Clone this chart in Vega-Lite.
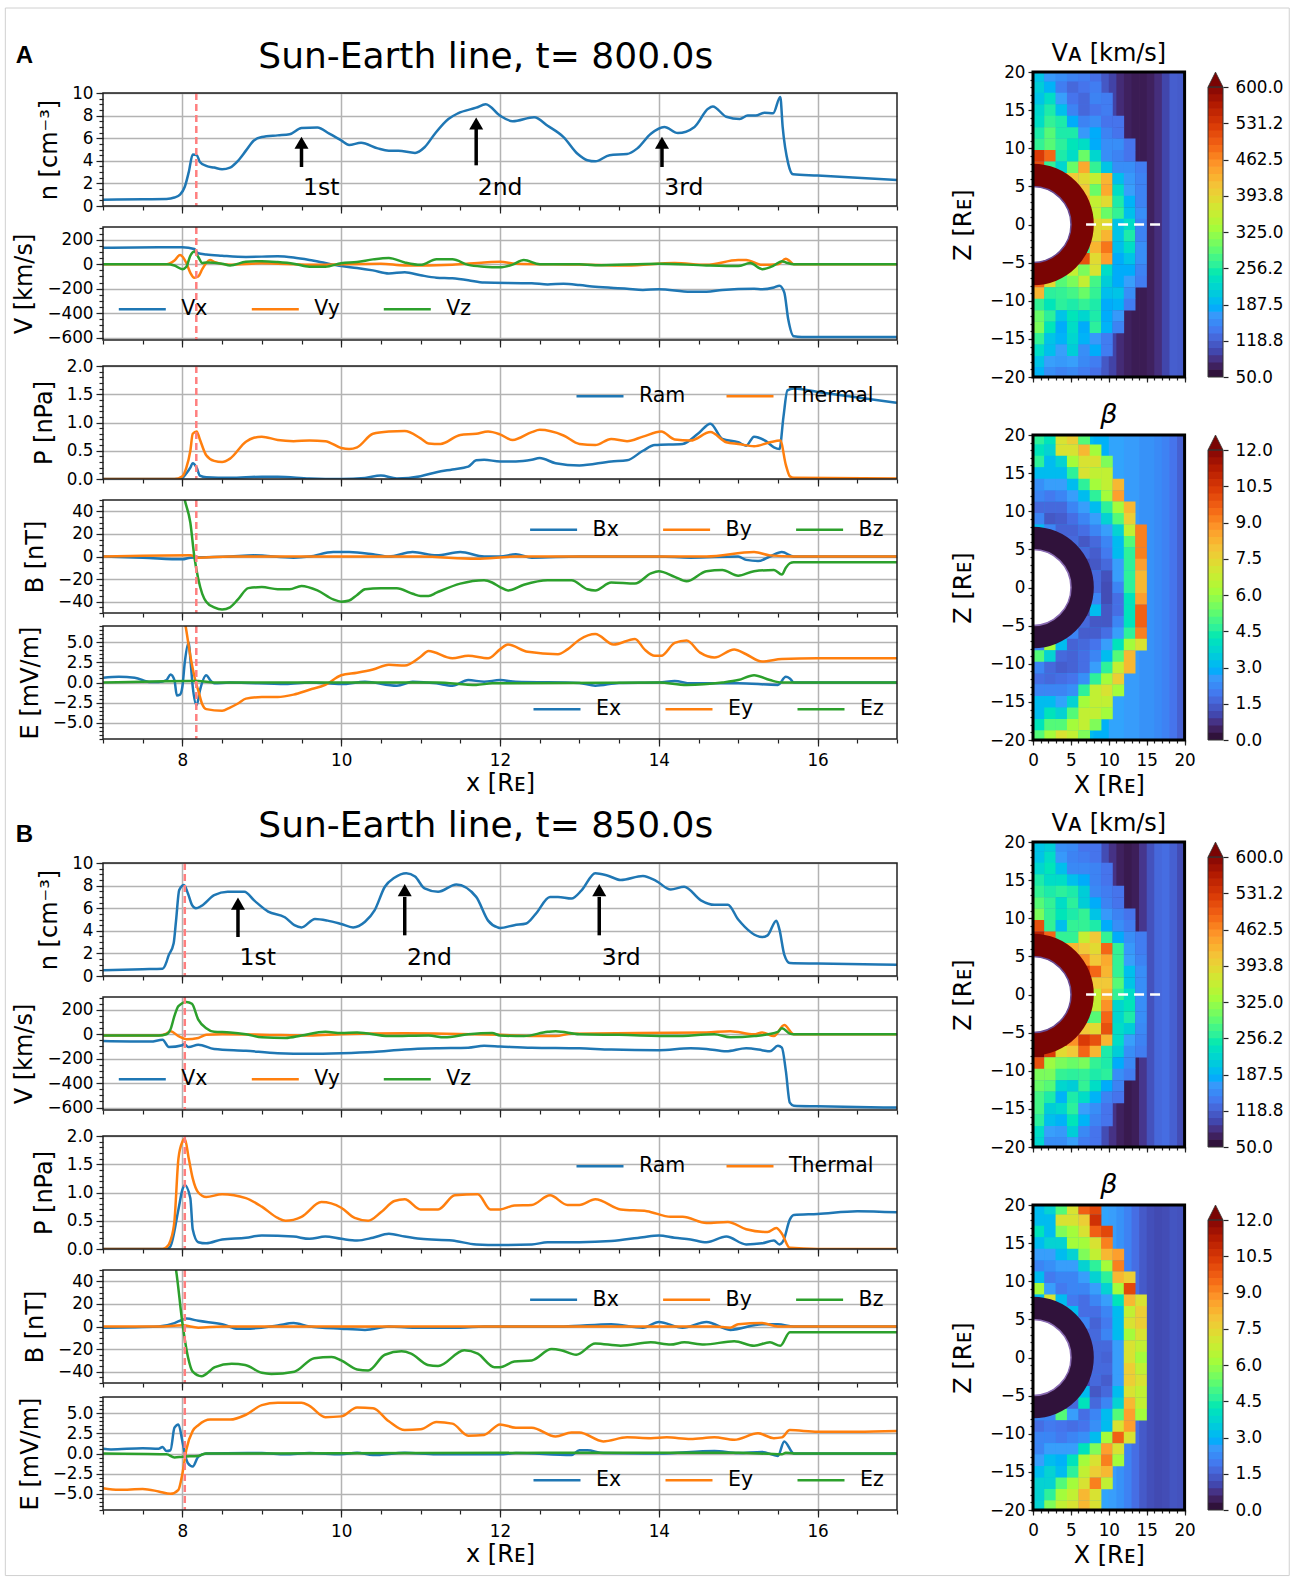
{"$schema":"https://vega.github.io/schema/vega-lite/v6.json","padding":{"left":4,"top":7,"right":0,"bottom":0},"background":"white","bounds":"flush","spacing":930,"resolve":{"scale":{"color":"independent"},"legend":{"color":"independent"}},
"config":{"view":{"stroke":null},"font":"DejaVu Sans","range":{"heatmap":["#30123b","#4145ab","#4675ed","#39a2fc","#1bcfd4","#24eca6","#61fc6c","#a4fc3b","#d1e834","#f3c63a","#fe9b2d","#f36315","#d93806","#b11901","#7a0403"],"ramp":["#30123b","#4145ab","#4675ed","#39a2fc","#1bcfd4","#24eca6","#61fc6c","#a4fc3b","#d1e834","#f3c63a","#fe9b2d","#f36315","#d93806","#b11901","#7a0403"]},"axis":{"domain":false,"labelFont":"DejaVu Sans","titleFont":"DejaVu Sans","labelFontSize":16.8,"titleFontSize":24,"titleFontWeight":"normal","tickColor":"#222","tickWidth":1.2,"labelColor":"#000","titleColor":"#000","gridColor":"#b3b3b3","gridWidth":1.5,"labelPadding":3,"titlePadding":10,"labelFlush":false,"labelOverlap":false},"legend":{"symbolType":"stroke","symbolSize":2209,"symbolStrokeWidth":2.5,"labelFontSize":20.5,"labelFont":"DejaVu Sans","labelOffset":14,"columnPadding":38,"orient":"none","direction":"horizontal","padding":0,"labelColor":"#000"},"title":{"font":"DejaVu Sans","fontWeight":"normal","color":"#000","anchor":"middle"}},
"datasets":{
"a1":[{"x":7,"y":0.55},{"x":7.5,"y":0.6},{"x":7.8,"y":0.62},{"x":7.9,"y":0.75},{"x":7.97,"y":1.0},{"x":8.03,"y":1.7},{"x":8.08,"y":3.0},{"x":8.13,"y":4.55},{"x":8.18,"y":4.5},{"x":8.22,"y":3.9},{"x":8.3,"y":3.55},{"x":8.4,"y":3.4},{"x":8.5,"y":3.25},{"x":8.6,"y":3.4},{"x":8.7,"y":4.0},{"x":8.8,"y":4.9},{"x":8.9,"y":5.8},{"x":9,"y":6.1},{"x":9.2,"y":6.25},{"x":9.35,"y":6.35},{"x":9.5,"y":6.9},{"x":9.7,"y":6.95},{"x":9.85,"y":6.4},{"x":10,"y":5.8},{"x":10.1,"y":5.4},{"x":10.25,"y":5.6},{"x":10.46,"y":5.1},{"x":10.6,"y":4.9},{"x":10.72,"y":4.9},{"x":10.93,"y":4.7},{"x":11.05,"y":5.2},{"x":11.18,"y":6.4},{"x":11.35,"y":7.7},{"x":11.47,"y":8.2},{"x":11.7,"y":8.7},{"x":11.82,"y":9.0},{"x":12,"y":8.0},{"x":12.16,"y":7.5},{"x":12.43,"y":7.85},{"x":12.6,"y":7.1},{"x":12.8,"y":6.1},{"x":12.98,"y":4.6},{"x":13.1,"y":4.05},{"x":13.2,"y":3.95},{"x":13.38,"y":4.5},{"x":13.6,"y":4.6},{"x":13.73,"y":5.1},{"x":13.9,"y":6.4},{"x":14.07,"y":7.0},{"x":14.24,"y":6.45},{"x":14.45,"y":7.0},{"x":14.62,"y":8.6},{"x":14.68,"y":8.8},{"x":14.85,"y":7.9},{"x":15.02,"y":7.7},{"x":15.12,"y":8.0},{"x":15.22,"y":8.0},{"x":15.33,"y":8.25},{"x":15.44,"y":8.2},{"x":15.53,"y":9.65},{"x":15.56,"y":7.0},{"x":15.63,"y":3.75},{"x":15.69,"y":2.8},{"x":16,"y":2.7},{"x":17,"y":2.3}],
"a2":[{"x":7,"s":"Vx","y":135},{"x":7.7,"s":"Vx","y":140},{"x":8,"s":"Vx","y":140},{"x":8.15,"s":"Vx","y":125},{"x":8.2,"s":"Vx","y":90},{"x":8.3,"s":"Vx","y":80},{"x":8.5,"s":"Vx","y":70},{"x":8.8,"s":"Vx","y":60},{"x":9.2,"s":"Vx","y":65},{"x":9.4,"s":"Vx","y":55},{"x":9.6,"s":"Vx","y":35},{"x":9.8,"s":"Vx","y":10},{"x":10,"s":"Vx","y":-15},{"x":10.2,"s":"Vx","y":-30},{"x":10.4,"s":"Vx","y":-50},{"x":10.6,"s":"Vx","y":-75},{"x":10.8,"s":"Vx","y":-65},{"x":11,"s":"Vx","y":-90},{"x":11.2,"s":"Vx","y":-110},{"x":11.4,"s":"Vx","y":-115},{"x":11.6,"s":"Vx","y":-130},{"x":11.8,"s":"Vx","y":-150},{"x":12.4,"s":"Vx","y":-155},{"x":12.6,"s":"Vx","y":-165},{"x":12.8,"s":"Vx","y":-160},{"x":13,"s":"Vx","y":-170},{"x":13.2,"s":"Vx","y":-185},{"x":13.6,"s":"Vx","y":-200},{"x":13.8,"s":"Vx","y":-210},{"x":14,"s":"Vx","y":-205},{"x":14.4,"s":"Vx","y":-225},{"x":14.6,"s":"Vx","y":-225},{"x":14.8,"s":"Vx","y":-210},{"x":15.2,"s":"Vx","y":-200},{"x":15.3,"s":"Vx","y":-205},{"x":15.45,"s":"Vx","y":-190},{"x":15.52,"s":"Vx","y":-175},{"x":15.58,"s":"Vx","y":-230},{"x":15.63,"s":"Vx","y":-450},{"x":15.7,"s":"Vx","y":-590},{"x":15.8,"s":"Vx","y":-595},{"x":17,"s":"Vx","y":-595},
{"x":7,"s":"Vy","y":0},{"x":7.8,"s":"Vy","y":0},{"x":7.9,"s":"Vy","y":30},{"x":7.97,"s":"Vy","y":75},{"x":8.05,"s":"Vy","y":10},{"x":8.1,"s":"Vy","y":-70},{"x":8.15,"s":"Vy","y":-110},{"x":8.2,"s":"Vy","y":-100},{"x":8.25,"s":"Vy","y":-40},{"x":8.3,"s":"Vy","y":10},{"x":8.35,"s":"Vy","y":35},{"x":8.4,"s":"Vy","y":20},{"x":8.6,"s":"Vy","y":-5},{"x":9,"s":"Vy","y":8},{"x":9.6,"s":"Vy","y":-5},{"x":10.5,"s":"Vy","y":5},{"x":10.8,"s":"Vy","y":-10},{"x":11.4,"s":"Vy","y":-3},{"x":11.8,"s":"Vy","y":15},{"x":12,"s":"Vy","y":20},{"x":12.2,"s":"Vy","y":5},{"x":13,"s":"Vy","y":-2},{"x":13.6,"s":"Vy","y":-10},{"x":14.2,"s":"Vy","y":10},{"x":14.6,"s":"Vy","y":-5},{"x":15,"s":"Vy","y":35},{"x":15.1,"s":"Vy","y":35},{"x":15.3,"s":"Vy","y":-5},{"x":15.5,"s":"Vy","y":0},{"x":15.6,"s":"Vy","y":45},{"x":15.65,"s":"Vy","y":25},{"x":15.7,"s":"Vy","y":0},{"x":17,"s":"Vy","y":0},
{"x":7,"s":"Vz","y":0},{"x":7.8,"s":"Vz","y":0},{"x":7.9,"s":"Vz","y":-10},{"x":8,"s":"Vz","y":-40},{"x":8.05,"s":"Vz","y":-20},{"x":8.1,"s":"Vz","y":70},{"x":8.15,"s":"Vz","y":105},{"x":8.2,"s":"Vz","y":60},{"x":8.25,"s":"Vz","y":10},{"x":8.3,"s":"Vz","y":15},{"x":8.5,"s":"Vz","y":5},{"x":8.6,"s":"Vz","y":-10},{"x":8.8,"s":"Vz","y":20},{"x":9,"s":"Vz","y":25},{"x":9.2,"s":"Vz","y":18},{"x":9.4,"s":"Vz","y":5},{"x":9.6,"s":"Vz","y":-20},{"x":9.8,"s":"Vz","y":-20},{"x":10,"s":"Vz","y":8},{"x":10.2,"s":"Vz","y":18},{"x":10.4,"s":"Vz","y":40},{"x":10.6,"s":"Vz","y":52},{"x":10.8,"s":"Vz","y":15},{"x":11,"s":"Vz","y":-5},{"x":11.2,"s":"Vz","y":40},{"x":11.4,"s":"Vz","y":40},{"x":11.6,"s":"Vz","y":-5},{"x":11.8,"s":"Vz","y":-20},{"x":12,"s":"Vz","y":-25},{"x":12.15,"s":"Vz","y":-5},{"x":12.3,"s":"Vz","y":35},{"x":12.5,"s":"Vz","y":0},{"x":13,"s":"Vz","y":0},{"x":13.2,"s":"Vz","y":-8},{"x":14,"s":"Vz","y":5},{"x":14.6,"s":"Vz","y":-10},{"x":15,"s":"Vz","y":-15},{"x":15.15,"s":"Vz","y":10},{"x":15.3,"s":"Vz","y":-40},{"x":15.45,"s":"Vz","y":-10},{"x":15.55,"s":"Vz","y":25},{"x":15.6,"s":"Vz","y":15},{"x":15.7,"s":"Vz","y":0},{"x":17,"s":"Vz","y":0}],
"a3":[{"x":7,"s":"Ram","y":0},{"x":7.95,"s":"Ram","y":0},{"x":8,"s":"Ram","y":0.02},{"x":8.05,"s":"Ram","y":0.1},{"x":8.1,"s":"Ram","y":0.2},{"x":8.13,"s":"Ram","y":0.28},{"x":8.18,"s":"Ram","y":0.2},{"x":8.22,"s":"Ram","y":0.06},{"x":8.3,"s":"Ram","y":0.03},{"x":8.6,"s":"Ram","y":0.02},{"x":9,"s":"Ram","y":0.04},{"x":9.2,"s":"Ram","y":0.04},{"x":9.6,"s":"Ram","y":0.01},{"x":10,"s":"Ram","y":0},{"x":10.3,"s":"Ram","y":0.02},{"x":10.5,"s":"Ram","y":0.06},{"x":10.7,"s":"Ram","y":0.01},{"x":11,"s":"Ram","y":0.05},{"x":11.2,"s":"Ram","y":0.12},{"x":11.4,"s":"Ram","y":0.17},{"x":11.6,"s":"Ram","y":0.22},{"x":11.7,"s":"Ram","y":0.33},{"x":11.8,"s":"Ram","y":0.34},{"x":12,"s":"Ram","y":0.31},{"x":12.2,"s":"Ram","y":0.31},{"x":12.4,"s":"Ram","y":0.34},{"x":12.5,"s":"Ram","y":0.37},{"x":12.7,"s":"Ram","y":0.28},{"x":13,"s":"Ram","y":0.24},{"x":13.4,"s":"Ram","y":0.31},{"x":13.6,"s":"Ram","y":0.33},{"x":13.8,"s":"Ram","y":0.5},{"x":13.95,"s":"Ram","y":0.6},{"x":14.3,"s":"Ram","y":0.62},{"x":14.5,"s":"Ram","y":0.81},{"x":14.65,"s":"Ram","y":0.98},{"x":14.8,"s":"Ram","y":0.71},{"x":15,"s":"Ram","y":0.65},{"x":15.1,"s":"Ram","y":0.59},{"x":15.2,"s":"Ram","y":0.75},{"x":15.35,"s":"Ram","y":0.67},{"x":15.45,"s":"Ram","y":0.56},{"x":15.52,"s":"Ram","y":0.53},{"x":15.57,"s":"Ram","y":1.1},{"x":15.62,"s":"Ram","y":1.57},{"x":15.7,"s":"Ram","y":1.6},{"x":16,"s":"Ram","y":1.54},{"x":17,"s":"Ram","y":1.35},
{"x":7,"s":"Thermal","y":0},{"x":7.9,"s":"Thermal","y":0},{"x":8,"s":"Thermal","y":0.05},{"x":8.05,"s":"Thermal","y":0.2},{"x":8.1,"s":"Thermal","y":0.5},{"x":8.13,"s":"Thermal","y":0.8},{"x":8.18,"s":"Thermal","y":0.84},{"x":8.22,"s":"Thermal","y":0.7},{"x":8.3,"s":"Thermal","y":0.42},{"x":8.4,"s":"Thermal","y":0.32},{"x":8.5,"s":"Thermal","y":0.3},{"x":8.6,"s":"Thermal","y":0.36},{"x":8.8,"s":"Thermal","y":0.66},{"x":8.9,"s":"Thermal","y":0.73},{"x":9,"s":"Thermal","y":0.75},{"x":9.2,"s":"Thermal","y":0.69},{"x":9.4,"s":"Thermal","y":0.67},{"x":9.6,"s":"Thermal","y":0.68},{"x":9.8,"s":"Thermal","y":0.67},{"x":10,"s":"Thermal","y":0.55},{"x":10.1,"s":"Thermal","y":0.53},{"x":10.2,"s":"Thermal","y":0.56},{"x":10.4,"s":"Thermal","y":0.8},{"x":10.6,"s":"Thermal","y":0.84},{"x":10.8,"s":"Thermal","y":0.85},{"x":11,"s":"Thermal","y":0.72},{"x":11.1,"s":"Thermal","y":0.63},{"x":11.25,"s":"Thermal","y":0.62},{"x":11.5,"s":"Thermal","y":0.78},{"x":11.7,"s":"Thermal","y":0.8},{"x":11.85,"s":"Thermal","y":0.84},{"x":12,"s":"Thermal","y":0.79},{"x":12.16,"s":"Thermal","y":0.69},{"x":12.4,"s":"Thermal","y":0.83},{"x":12.5,"s":"Thermal","y":0.87},{"x":12.8,"s":"Thermal","y":0.77},{"x":13,"s":"Thermal","y":0.62},{"x":13.2,"s":"Thermal","y":0.6},{"x":13.4,"s":"Thermal","y":0.71},{"x":13.6,"s":"Thermal","y":0.67},{"x":13.8,"s":"Thermal","y":0.75},{"x":14.03,"s":"Thermal","y":0.84},{"x":14.2,"s":"Thermal","y":0.7},{"x":14.4,"s":"Thermal","y":0.68},{"x":14.65,"s":"Thermal","y":0.83},{"x":14.85,"s":"Thermal","y":0.65},{"x":15,"s":"Thermal","y":0.62},{"x":15.2,"s":"Thermal","y":0.58},{"x":15.4,"s":"Thermal","y":0.65},{"x":15.53,"s":"Thermal","y":0.68},{"x":15.6,"s":"Thermal","y":0.25},{"x":15.65,"s":"Thermal","y":0.05},{"x":15.7,"s":"Thermal","y":0.02},{"x":17,"s":"Thermal","y":0.01}],
"a4":[{"x":7,"s":"Bx","y":0},{"x":7.5,"s":"Bx","y":-1},{"x":8,"s":"Bx","y":-2.5},{"x":8.1,"s":"Bx","y":-1},{"x":8.6,"s":"Bx","y":0},{"x":8.9,"s":"Bx","y":1},{"x":9.4,"s":"Bx","y":-1},{"x":9.6,"s":"Bx","y":0},{"x":9.9,"s":"Bx","y":4},{"x":10.1,"s":"Bx","y":4},{"x":10.4,"s":"Bx","y":2},{"x":10.6,"s":"Bx","y":0},{"x":10.9,"s":"Bx","y":4},{"x":11.2,"s":"Bx","y":1},{"x":11.5,"s":"Bx","y":4},{"x":11.8,"s":"Bx","y":0},{"x":12,"s":"Bx","y":0},{"x":12.2,"s":"Bx","y":2},{"x":12.4,"s":"Bx","y":-1},{"x":13,"s":"Bx","y":0},{"x":14,"s":"Bx","y":0},{"x":14.4,"s":"Bx","y":-1},{"x":15,"s":"Bx","y":0},{"x":15.1,"s":"Bx","y":-3},{"x":15.25,"s":"Bx","y":-4},{"x":15.4,"s":"Bx","y":0},{"x":15.55,"s":"Bx","y":4},{"x":15.7,"s":"Bx","y":0},{"x":17,"s":"Bx","y":0},
{"x":7,"s":"By","y":0},{"x":8.1,"s":"By","y":1},{"x":8.2,"s":"By","y":-1},{"x":8.6,"s":"By","y":0},{"x":11,"s":"By","y":0},{"x":11.7,"s":"By","y":-2},{"x":12.2,"s":"By","y":0},{"x":14.6,"s":"By","y":0},{"x":15.2,"s":"By","y":4},{"x":15.4,"s":"By","y":1},{"x":15.7,"s":"By","y":0},{"x":17,"s":"By","y":0},
{"x":8,"s":"Bz","y":60},{"x":8.03,"s":"Bz","y":50},{"x":8.1,"s":"Bz","y":30},{"x":8.15,"s":"Bz","y":0},{"x":8.2,"s":"Bz","y":-20},{"x":8.25,"s":"Bz","y":-33},{"x":8.3,"s":"Bz","y":-40},{"x":8.4,"s":"Bz","y":-45},{"x":8.5,"s":"Bz","y":-47},{"x":8.6,"s":"Bz","y":-45},{"x":8.7,"s":"Bz","y":-38},{"x":8.83,"s":"Bz","y":-28},{"x":9,"s":"Bz","y":-27},{"x":9.2,"s":"Bz","y":-29},{"x":9.35,"s":"Bz","y":-29},{"x":9.5,"s":"Bz","y":-26},{"x":9.7,"s":"Bz","y":-30},{"x":9.9,"s":"Bz","y":-38},{"x":10,"s":"Bz","y":-40},{"x":10.1,"s":"Bz","y":-39},{"x":10.2,"s":"Bz","y":-34},{"x":10.3,"s":"Bz","y":-29},{"x":10.5,"s":"Bz","y":-28},{"x":10.7,"s":"Bz","y":-28},{"x":10.9,"s":"Bz","y":-33},{"x":11,"s":"Bz","y":-35},{"x":11.1,"s":"Bz","y":-35},{"x":11.2,"s":"Bz","y":-32},{"x":11.5,"s":"Bz","y":-24},{"x":11.8,"s":"Bz","y":-21},{"x":11.9,"s":"Bz","y":-23},{"x":12,"s":"Bz","y":-27},{"x":12.1,"s":"Bz","y":-30},{"x":12.3,"s":"Bz","y":-25},{"x":12.6,"s":"Bz","y":-21},{"x":12.9,"s":"Bz","y":-21},{"x":13.1,"s":"Bz","y":-29},{"x":13.2,"s":"Bz","y":-30},{"x":13.4,"s":"Bz","y":-23},{"x":13.7,"s":"Bz","y":-24},{"x":13.9,"s":"Bz","y":-15},{"x":14,"s":"Bz","y":-13},{"x":14.2,"s":"Bz","y":-18},{"x":14.35,"s":"Bz","y":-22},{"x":14.6,"s":"Bz","y":-13},{"x":14.8,"s":"Bz","y":-12},{"x":15,"s":"Bz","y":-17},{"x":15.2,"s":"Bz","y":-13},{"x":15.45,"s":"Bz","y":-12},{"x":15.55,"s":"Bz","y":-16},{"x":15.6,"s":"Bz","y":-10},{"x":15.65,"s":"Bz","y":-6},{"x":15.7,"s":"Bz","y":-5},{"x":17,"s":"Bz","y":-5}],
"a5":[{"x":7,"s":"Ex","y":0.6},{"x":7.2,"s":"Ex","y":0.7},{"x":7.4,"s":"Ex","y":0.6},{"x":7.6,"s":"Ex","y":0.05},{"x":7.7,"s":"Ex","y":0.05},{"x":7.8,"s":"Ex","y":0.3},{"x":7.85,"s":"Ex","y":1.0},{"x":7.9,"s":"Ex","y":0.3},{"x":7.93,"s":"Ex","y":-1.6},{"x":7.97,"s":"Ex","y":-1.5},{"x":8,"s":"Ex","y":-0.5},{"x":8.03,"s":"Ex","y":2.5},{"x":8.08,"s":"Ex","y":5},{"x":8.1,"s":"Ex","y":3},{"x":8.13,"s":"Ex","y":-0.5},{"x":8.18,"s":"Ex","y":-2.8},{"x":8.22,"s":"Ex","y":-1},{"x":8.3,"s":"Ex","y":0.9},{"x":8.35,"s":"Ex","y":0.3},{"x":8.4,"s":"Ex","y":-0.1},{"x":8.6,"s":"Ex","y":0},{"x":9.3,"s":"Ex","y":-0.2},{"x":9.6,"s":"Ex","y":0},{"x":10,"s":"Ex","y":-0.2},{"x":10.3,"s":"Ex","y":0.1},{"x":10.7,"s":"Ex","y":-0.4},{"x":10.9,"s":"Ex","y":0.1},{"x":11.2,"s":"Ex","y":-0.1},{"x":11.4,"s":"Ex","y":-0.4},{"x":11.6,"s":"Ex","y":0.3},{"x":11.8,"s":"Ex","y":0.1},{"x":12,"s":"Ex","y":0.3},{"x":12.2,"s":"Ex","y":0.1},{"x":13,"s":"Ex","y":-0.05},{"x":13.2,"s":"Ex","y":-0.4},{"x":13.5,"s":"Ex","y":-0.05},{"x":14,"s":"Ex","y":0},{"x":14.2,"s":"Ex","y":0.2},{"x":14.4,"s":"Ex","y":-0.1},{"x":15,"s":"Ex","y":-0.1},{"x":15.5,"s":"Ex","y":-0.3},{"x":15.6,"s":"Ex","y":0.7},{"x":15.65,"s":"Ex","y":0.5},{"x":15.7,"s":"Ex","y":0},{"x":17,"s":"Ex","y":0},
{"x":8,"s":"Ey","y":9},{"x":8.04,"s":"Ey","y":7},{"x":8.1,"s":"Ey","y":3.3},{"x":8.17,"s":"Ey","y":0},{"x":8.2,"s":"Ey","y":-1},{"x":8.25,"s":"Ey","y":-2.7},{"x":8.3,"s":"Ey","y":-3.3},{"x":8.5,"s":"Ey","y":-3.5},{"x":8.6,"s":"Ey","y":-3.1},{"x":8.7,"s":"Ey","y":-2.6},{"x":8.8,"s":"Ey","y":-2},{"x":9,"s":"Ey","y":-1.8},{"x":9.2,"s":"Ey","y":-1.8},{"x":9.4,"s":"Ey","y":-1.5},{"x":9.6,"s":"Ey","y":-0.9},{"x":9.8,"s":"Ey","y":-0.3},{"x":10,"s":"Ey","y":0.9},{"x":10.2,"s":"Ey","y":1.2},{"x":10.4,"s":"Ey","y":1.6},{"x":10.6,"s":"Ey","y":2.2},{"x":10.8,"s":"Ey","y":2.1},{"x":11,"s":"Ey","y":3.2},{"x":11.1,"s":"Ey","y":3.9},{"x":11.4,"s":"Ey","y":3},{"x":11.6,"s":"Ey","y":3.3},{"x":11.85,"s":"Ey","y":3},{"x":12,"s":"Ey","y":4.1},{"x":12.1,"s":"Ey","y":4.7},{"x":12.35,"s":"Ey","y":3.8},{"x":12.73,"s":"Ey","y":3.5},{"x":12.85,"s":"Ey","y":4.1},{"x":13,"s":"Ey","y":5.3},{"x":13.2,"s":"Ey","y":6},{"x":13.43,"s":"Ey","y":4.7},{"x":13.7,"s":"Ey","y":5.4},{"x":13.82,"s":"Ey","y":4.1},{"x":13.95,"s":"Ey","y":3.3},{"x":14.03,"s":"Ey","y":3.3},{"x":14.2,"s":"Ey","y":4.9},{"x":14.35,"s":"Ey","y":5.2},{"x":14.52,"s":"Ey","y":3.7},{"x":14.7,"s":"Ey","y":3.1},{"x":14.95,"s":"Ey","y":4.1},{"x":15.1,"s":"Ey","y":3.5},{"x":15.3,"s":"Ey","y":2.6},{"x":15.55,"s":"Ey","y":2.9},{"x":16,"s":"Ey","y":3},{"x":17,"s":"Ey","y":3},
{"x":7,"s":"Ez","y":0},{"x":8.1,"s":"Ez","y":0.2},{"x":8.2,"s":"Ez","y":0.2},{"x":8.4,"s":"Ez","y":0},{"x":11.2,"s":"Ez","y":0},{"x":11.7,"s":"Ez","y":-0.3},{"x":11.9,"s":"Ez","y":-0.1},{"x":14,"s":"Ez","y":0},{"x":14.35,"s":"Ez","y":-0.3},{"x":14.8,"s":"Ez","y":0},{"x":15,"s":"Ez","y":0.3},{"x":15.2,"s":"Ez","y":0.9},{"x":15.4,"s":"Ez","y":0.3},{"x":15.55,"s":"Ez","y":0},{"x":17,"s":"Ez","y":0}],
"b1":[{"x":7,"y":0.5},{"x":7.5,"y":0.6},{"x":7.75,"y":0.65},{"x":7.8,"y":1.25},{"x":7.82,"y":1.7},{"x":7.89,"y":2.9},{"x":7.92,"y":4.9},{"x":7.96,"y":7.6},{"x":8.02,"y":8.05},{"x":8.07,"y":7.3},{"x":8.12,"y":6.3},{"x":8.17,"y":6.0},{"x":8.24,"y":6.2},{"x":8.4,"y":7.15},{"x":8.57,"y":7.45},{"x":8.78,"y":7.45},{"x":8.91,"y":6.65},{"x":9.08,"y":5.7},{"x":9.29,"y":5.2},{"x":9.41,"y":4.5},{"x":9.5,"y":4.3},{"x":9.67,"y":5.05},{"x":9.83,"y":4.9},{"x":10,"y":4.6},{"x":10.15,"y":4.3},{"x":10.3,"y":4.8},{"x":10.42,"y":5.8},{"x":10.55,"y":7.9},{"x":10.67,"y":8.7},{"x":10.82,"y":9.1},{"x":10.93,"y":8.8},{"x":11.05,"y":7.75},{"x":11.22,"y":7.45},{"x":11.45,"y":8.1},{"x":11.7,"y":7},{"x":11.85,"y":4.9},{"x":11.97,"y":4.3},{"x":12,"y":4.25},{"x":12.18,"y":4.5},{"x":12.33,"y":4.65},{"x":12.45,"y":5.5},{"x":12.63,"y":7},{"x":12.73,"y":7},{"x":12.9,"y":6.85},{"x":13.03,"y":7.6},{"x":13.2,"y":9.1},{"x":13.35,"y":8.9},{"x":13.52,"y":8.5},{"x":13.8,"y":8.85},{"x":13.97,"y":8.4},{"x":14.15,"y":7.65},{"x":14.32,"y":7.9},{"x":14.53,"y":6.7},{"x":14.7,"y":6.3},{"x":14.87,"y":6.3},{"x":15,"y":5},{"x":15.3,"y":3.45},{"x":15.37,"y":3.6},{"x":15.48,"y":4.9},{"x":15.52,"y":4.1},{"x":15.58,"y":1.9},{"x":15.65,"y":1.15},{"x":16,"y":1.1},{"x":17,"y":1.0}],
"b2":[{"x":7,"s":"Vx","y":-55},{"x":7.6,"s":"Vx","y":-60},{"x":7.75,"s":"Vx","y":-45},{"x":7.83,"s":"Vx","y":-105},{"x":8,"s":"Vx","y":-90},{"x":8.02,"s":"Vx","y":-80},{"x":8.08,"s":"Vx","y":-105},{"x":8.2,"s":"Vx","y":-85},{"x":8.4,"s":"Vx","y":-120},{"x":8.8,"s":"Vx","y":-135},{"x":9.2,"s":"Vx","y":-155},{"x":9.6,"s":"Vx","y":-160},{"x":10,"s":"Vx","y":-155},{"x":10.4,"s":"Vx","y":-145},{"x":10.8,"s":"Vx","y":-125},{"x":11.2,"s":"Vx","y":-115},{"x":11.6,"s":"Vx","y":-110},{"x":11.8,"s":"Vx","y":-95},{"x":12,"s":"Vx","y":-100},{"x":12.4,"s":"Vx","y":-110},{"x":13,"s":"Vx","y":-115},{"x":13.4,"s":"Vx","y":-125},{"x":14,"s":"Vx","y":-130},{"x":14.4,"s":"Vx","y":-115},{"x":14.6,"s":"Vx","y":-120},{"x":14.85,"s":"Vx","y":-140},{"x":15.1,"s":"Vx","y":-115},{"x":15.3,"s":"Vx","y":-130},{"x":15.4,"s":"Vx","y":-140},{"x":15.5,"s":"Vx","y":-95},{"x":15.55,"s":"Vx","y":-110},{"x":15.6,"s":"Vx","y":-300},{"x":15.65,"s":"Vx","y":-560},{"x":15.7,"s":"Vx","y":-585},{"x":16,"s":"Vx","y":-590},{"x":17,"s":"Vx","y":-600},
{"x":7,"s":"Vy","y":-10},{"x":7.7,"s":"Vy","y":-10},{"x":7.8,"s":"Vy","y":5},{"x":7.85,"s":"Vy","y":25},{"x":7.95,"s":"Vy","y":-15},{"x":8.05,"s":"Vy","y":-40},{"x":8.2,"s":"Vy","y":-30},{"x":8.3,"s":"Vy","y":-5},{"x":8.5,"s":"Vy","y":0},{"x":9,"s":"Vy","y":-3},{"x":9.6,"s":"Vy","y":-10},{"x":10,"s":"Vy","y":0},{"x":10.8,"s":"Vy","y":8},{"x":12,"s":"Vy","y":-5},{"x":12.5,"s":"Vy","y":-15},{"x":12.7,"s":"Vy","y":-15},{"x":12.9,"s":"Vy","y":5},{"x":14.6,"s":"Vy","y":15},{"x":14.9,"s":"Vy","y":25},{"x":15.2,"s":"Vy","y":0},{"x":15.3,"s":"Vy","y":15},{"x":15.45,"s":"Vy","y":-15},{"x":15.58,"s":"Vy","y":75},{"x":15.7,"s":"Vy","y":0},{"x":17,"s":"Vy","y":0},
{"x":7,"s":"Vz","y":-10},{"x":7.7,"s":"Vz","y":-10},{"x":7.8,"s":"Vz","y":0},{"x":7.85,"s":"Vz","y":40},{"x":7.9,"s":"Vz","y":150},{"x":7.95,"s":"Vz","y":230},{"x":8.05,"s":"Vz","y":265},{"x":8.12,"s":"Vz","y":250},{"x":8.2,"s":"Vz","y":120},{"x":8.3,"s":"Vz","y":50},{"x":8.4,"s":"Vz","y":20},{"x":8.6,"s":"Vz","y":15},{"x":8.8,"s":"Vz","y":0},{"x":9,"s":"Vz","y":-25},{"x":9.3,"s":"Vz","y":-30},{"x":9.5,"s":"Vz","y":-10},{"x":9.8,"s":"Vz","y":20},{"x":10,"s":"Vz","y":10},{"x":10.2,"s":"Vz","y":15},{"x":10.6,"s":"Vz","y":-15},{"x":11.1,"s":"Vz","y":-10},{"x":11.3,"s":"Vz","y":-25},{"x":11.6,"s":"Vz","y":0},{"x":11.9,"s":"Vz","y":10},{"x":12,"s":"Vz","y":-10},{"x":12.3,"s":"Vz","y":-15},{"x":12.6,"s":"Vz","y":20},{"x":12.7,"s":"Vz","y":25},{"x":13,"s":"Vz","y":0},{"x":13.5,"s":"Vz","y":-5},{"x":14.2,"s":"Vz","y":-15},{"x":14.7,"s":"Vz","y":0},{"x":14.9,"s":"Vz","y":-25},{"x":15.2,"s":"Vz","y":-15},{"x":15.5,"s":"Vz","y":20},{"x":15.55,"s":"Vz","y":50},{"x":15.65,"s":"Vz","y":5},{"x":15.7,"s":"Vz","y":0},{"x":17,"s":"Vz","y":0}],
"b3":[{"x":7,"s":"Ram","y":0},{"x":7.8,"s":"Ram","y":0},{"x":7.85,"s":"Ram","y":0.05},{"x":7.95,"s":"Ram","y":0.7},{"x":8,"s":"Ram","y":1.05},{"x":8.03,"s":"Ram","y":1.13},{"x":8.1,"s":"Ram","y":0.9},{"x":8.13,"s":"Ram","y":0.35},{"x":8.2,"s":"Ram","y":0.12},{"x":8.3,"s":"Ram","y":0.1},{"x":8.5,"s":"Ram","y":0.17},{"x":8.8,"s":"Ram","y":0.2},{"x":9,"s":"Ram","y":0.24},{"x":9.4,"s":"Ram","y":0.22},{"x":9.6,"s":"Ram","y":0.18},{"x":9.8,"s":"Ram","y":0.22},{"x":10,"s":"Ram","y":0.18},{"x":10.2,"s":"Ram","y":0.15},{"x":10.4,"s":"Ram","y":0.2},{"x":10.6,"s":"Ram","y":0.27},{"x":10.8,"s":"Ram","y":0.22},{"x":11,"s":"Ram","y":0.18},{"x":11.4,"s":"Ram","y":0.15},{"x":11.7,"s":"Ram","y":0.08},{"x":12,"s":"Ram","y":0.07},{"x":12.4,"s":"Ram","y":0.08},{"x":12.6,"s":"Ram","y":0.12},{"x":13,"s":"Ram","y":0.12},{"x":13.4,"s":"Ram","y":0.14},{"x":13.8,"s":"Ram","y":0.21},{"x":14,"s":"Ram","y":0.24},{"x":14.2,"s":"Ram","y":0.2},{"x":14.4,"s":"Ram","y":0.17},{"x":14.6,"s":"Ram","y":0.12},{"x":14.85,"s":"Ram","y":0.22},{"x":15.1,"s":"Ram","y":0.08},{"x":15.3,"s":"Ram","y":0.1},{"x":15.45,"s":"Ram","y":0.15},{"x":15.52,"s":"Ram","y":0.08},{"x":15.57,"s":"Ram","y":0.15},{"x":15.65,"s":"Ram","y":0.52},{"x":15.7,"s":"Ram","y":0.6},{"x":16,"s":"Ram","y":0.62},{"x":16.5,"s":"Ram","y":0.67},{"x":17,"s":"Ram","y":0.65},
{"x":7,"s":"Thermal","y":0},{"x":7.75,"s":"Thermal","y":0},{"x":7.8,"s":"Thermal","y":0.03},{"x":7.85,"s":"Thermal","y":0.15},{"x":7.9,"s":"Thermal","y":0.5},{"x":7.95,"s":"Thermal","y":1.6},{"x":8,"s":"Thermal","y":1.9},{"x":8.03,"s":"Thermal","y":1.95},{"x":8.08,"s":"Thermal","y":1.6},{"x":8.13,"s":"Thermal","y":1.25},{"x":8.2,"s":"Thermal","y":1.0},{"x":8.3,"s":"Thermal","y":0.92},{"x":8.5,"s":"Thermal","y":0.97},{"x":8.8,"s":"Thermal","y":0.9},{"x":9,"s":"Thermal","y":0.75},{"x":9.2,"s":"Thermal","y":0.55},{"x":9.3,"s":"Thermal","y":0.5},{"x":9.5,"s":"Thermal","y":0.57},{"x":9.75,"s":"Thermal","y":0.83},{"x":10,"s":"Thermal","y":0.73},{"x":10.17,"s":"Thermal","y":0.55},{"x":10.34,"s":"Thermal","y":0.5},{"x":10.5,"s":"Thermal","y":0.65},{"x":10.67,"s":"Thermal","y":0.85},{"x":10.8,"s":"Thermal","y":0.88},{"x":11,"s":"Thermal","y":0.7},{"x":11.22,"s":"Thermal","y":0.7},{"x":11.43,"s":"Thermal","y":0.95},{"x":11.72,"s":"Thermal","y":0.97},{"x":11.88,"s":"Thermal","y":0.7},{"x":12,"s":"Thermal","y":0.7},{"x":12.18,"s":"Thermal","y":0.77},{"x":12.4,"s":"Thermal","y":0.78},{"x":12.63,"s":"Thermal","y":0.95},{"x":12.85,"s":"Thermal","y":0.78},{"x":13,"s":"Thermal","y":0.78},{"x":13.2,"s":"Thermal","y":0.88},{"x":13.52,"s":"Thermal","y":0.7},{"x":13.85,"s":"Thermal","y":0.67},{"x":14.15,"s":"Thermal","y":0.57},{"x":14.3,"s":"Thermal","y":0.57},{"x":14.6,"s":"Thermal","y":0.46},{"x":14.87,"s":"Thermal","y":0.48},{"x":15.1,"s":"Thermal","y":0.35},{"x":15.37,"s":"Thermal","y":0.3},{"x":15.48,"s":"Thermal","y":0.37},{"x":15.55,"s":"Thermal","y":0.27},{"x":15.65,"s":"Thermal","y":0.02},{"x":16,"s":"Thermal","y":0},{"x":17,"s":"Thermal","y":0}],
"b4":[{"x":7,"s":"Bx","y":-1},{"x":7.7,"s":"Bx","y":0},{"x":7.9,"s":"Bx","y":3},{"x":8,"s":"Bx","y":6},{"x":8.05,"s":"Bx","y":7},{"x":8.2,"s":"Bx","y":5},{"x":8.5,"s":"Bx","y":2},{"x":8.7,"s":"Bx","y":-2},{"x":8.8,"s":"Bx","y":-2},{"x":9.2,"s":"Bx","y":1},{"x":9.4,"s":"Bx","y":3},{"x":9.6,"s":"Bx","y":0},{"x":10,"s":"Bx","y":-2},{"x":10.3,"s":"Bx","y":-3},{"x":10.6,"s":"Bx","y":0},{"x":10.9,"s":"Bx","y":-1},{"x":11.5,"s":"Bx","y":-1},{"x":11.8,"s":"Bx","y":0},{"x":12.8,"s":"Bx","y":0},{"x":13.4,"s":"Bx","y":2},{"x":13.8,"s":"Bx","y":-1},{"x":14,"s":"Bx","y":4},{"x":14.3,"s":"Bx","y":-1},{"x":14.6,"s":"Bx","y":4},{"x":14.9,"s":"Bx","y":-3},{"x":15.3,"s":"Bx","y":2},{"x":15.5,"s":"Bx","y":2},{"x":15.7,"s":"Bx","y":0},{"x":17,"s":"Bx","y":0},
{"x":7,"s":"By","y":0},{"x":7.7,"s":"By","y":0},{"x":8,"s":"By","y":1},{"x":8.2,"s":"By","y":-1},{"x":8.5,"s":"By","y":0},{"x":14.7,"s":"By","y":0},{"x":14.9,"s":"By","y":-1},{"x":15,"s":"By","y":2},{"x":15.3,"s":"By","y":3},{"x":15.5,"s":"By","y":0},{"x":17,"s":"By","y":0},
{"x":7,"s":"Bz","y":100},{"x":7.8,"s":"Bz","y":80},{"x":7.92,"s":"Bz","y":50},{"x":8,"s":"Bz","y":3},{"x":8.07,"s":"Bz","y":-27},{"x":8.13,"s":"Bz","y":-40},{"x":8.24,"s":"Bz","y":-44},{"x":8.41,"s":"Bz","y":-36},{"x":8.62,"s":"Bz","y":-33},{"x":8.79,"s":"Bz","y":-34},{"x":9,"s":"Bz","y":-41},{"x":9.12,"s":"Bz","y":-42},{"x":9.41,"s":"Bz","y":-40},{"x":9.66,"s":"Bz","y":-28},{"x":9.88,"s":"Bz","y":-27},{"x":10,"s":"Bz","y":-30},{"x":10.2,"s":"Bz","y":-38},{"x":10.34,"s":"Bz","y":-39},{"x":10.55,"s":"Bz","y":-25},{"x":10.76,"s":"Bz","y":-22},{"x":10.88,"s":"Bz","y":-24},{"x":11.09,"s":"Bz","y":-34},{"x":11.22,"s":"Bz","y":-35},{"x":11.55,"s":"Bz","y":-21},{"x":11.72,"s":"Bz","y":-24},{"x":11.93,"s":"Bz","y":-36},{"x":12,"s":"Bz","y":-36},{"x":12.18,"s":"Bz","y":-31},{"x":12.4,"s":"Bz","y":-30},{"x":12.65,"s":"Bz","y":-20},{"x":12.77,"s":"Bz","y":-21},{"x":12.96,"s":"Bz","y":-25},{"x":13.2,"s":"Bz","y":-15},{"x":13.52,"s":"Bz","y":-17},{"x":13.9,"s":"Bz","y":-14},{"x":14.15,"s":"Bz","y":-16},{"x":14.32,"s":"Bz","y":-14},{"x":14.57,"s":"Bz","y":-16},{"x":14.95,"s":"Bz","y":-13},{"x":15.2,"s":"Bz","y":-17},{"x":15.4,"s":"Bz","y":-14},{"x":15.53,"s":"Bz","y":-17},{"x":15.65,"s":"Bz","y":-5},{"x":17,"s":"Bz","y":-5}],
"b5":[{"x":7,"s":"Ex","y":0.6},{"x":7.1,"s":"Ex","y":0.5},{"x":7.5,"s":"Ex","y":0.65},{"x":7.7,"s":"Ex","y":0.6},{"x":7.75,"s":"Ex","y":0.8},{"x":7.8,"s":"Ex","y":0.3},{"x":7.85,"s":"Ex","y":0.4},{"x":7.9,"s":"Ex","y":3.2},{"x":7.95,"s":"Ex","y":3.6},{"x":8,"s":"Ex","y":1.5},{"x":8.03,"s":"Ex","y":0},{"x":8.07,"s":"Ex","y":-1.2},{"x":8.13,"s":"Ex","y":-1.6},{"x":8.2,"s":"Ex","y":-0.4},{"x":8.3,"s":"Ex","y":0},{"x":9,"s":"Ex","y":0.05},{"x":9.3,"s":"Ex","y":-0.1},{"x":9.6,"s":"Ex","y":0.05},{"x":10,"s":"Ex","y":-0.1},{"x":10.2,"s":"Ex","y":0.1},{"x":10.4,"s":"Ex","y":-0.2},{"x":10.8,"s":"Ex","y":0.1},{"x":11.2,"s":"Ex","y":-0.1},{"x":12,"s":"Ex","y":-0.1},{"x":12.2,"s":"Ex","y":0.05},{"x":12.9,"s":"Ex","y":-0.2},{"x":13,"s":"Ex","y":0.4},{"x":13.1,"s":"Ex","y":0.4},{"x":13.3,"s":"Ex","y":0.05},{"x":14,"s":"Ex","y":0},{"x":14.7,"s":"Ex","y":0.3},{"x":15,"s":"Ex","y":0.05},{"x":15.3,"s":"Ex","y":0.2},{"x":15.5,"s":"Ex","y":-0.3},{"x":15.58,"s":"Ex","y":1.5},{"x":15.7,"s":"Ex","y":0},{"x":17,"s":"Ex","y":0},
{"x":7,"s":"Ey","y":-4.3},{"x":7.2,"s":"Ey","y":-4.5},{"x":7.5,"s":"Ey","y":-4.4},{"x":7.7,"s":"Ey","y":-4.7},{"x":7.85,"s":"Ey","y":-5},{"x":7.95,"s":"Ey","y":-4.5},{"x":8,"s":"Ey","y":-2.5},{"x":8.05,"s":"Ey","y":0.5},{"x":8.13,"s":"Ey","y":2.8},{"x":8.2,"s":"Ey","y":3.5},{"x":8.35,"s":"Ey","y":4.2},{"x":8.6,"s":"Ey","y":4.2},{"x":8.8,"s":"Ey","y":4.8},{"x":9,"s":"Ey","y":6},{"x":9.2,"s":"Ey","y":6.3},{"x":9.5,"s":"Ey","y":6.3},{"x":9.6,"s":"Ey","y":5.9},{"x":9.8,"s":"Ey","y":4.5},{"x":10,"s":"Ey","y":4.6},{"x":10.2,"s":"Ey","y":5.7},{"x":10.4,"s":"Ey","y":5.6},{"x":10.6,"s":"Ey","y":4},{"x":10.8,"s":"Ey","y":2.9},{"x":11,"s":"Ey","y":3},{"x":11.2,"s":"Ey","y":3.9},{"x":11.4,"s":"Ey","y":3.7},{"x":11.6,"s":"Ey","y":2.2},{"x":11.8,"s":"Ey","y":2.3},{"x":12,"s":"Ey","y":3.6},{"x":12.2,"s":"Ey","y":3.2},{"x":12.4,"s":"Ey","y":3.2},{"x":12.7,"s":"Ey","y":2.1},{"x":12.9,"s":"Ey","y":2.6},{"x":13,"s":"Ey","y":2.6},{"x":13.3,"s":"Ey","y":1.5},{"x":13.6,"s":"Ey","y":2},{"x":13.9,"s":"Ey","y":1.9},{"x":14.1,"s":"Ey","y":2},{"x":14.4,"s":"Ey","y":1.8},{"x":14.7,"s":"Ey","y":2},{"x":14.95,"s":"Ey","y":1.7},{"x":15.25,"s":"Ey","y":2.5},{"x":15.45,"s":"Ey","y":1.9},{"x":15.55,"s":"Ey","y":2},{"x":15.65,"s":"Ey","y":2.9},{"x":16,"s":"Ey","y":2.7},{"x":16.5,"s":"Ey","y":2.7},{"x":17,"s":"Ey","y":2.8},
{"x":7,"s":"Ez","y":0},{"x":7.8,"s":"Ez","y":-0.1},{"x":7.9,"s":"Ez","y":-0.5},{"x":8,"s":"Ez","y":-0.4},{"x":8.2,"s":"Ez","y":-0.3},{"x":8.3,"s":"Ez","y":0},{"x":15,"s":"Ez","y":0.1},{"x":15.55,"s":"Ez","y":-0.1},{"x":15.6,"s":"Ez","y":0.1},{"x":15.7,"s":"Ez","y":0},{"x":17,"s":"Ez","y":0}],
"cbV":[{"v":50,"v2":65},{"v":63.75,"v2":79},{"v":77.5,"v2":93},{"v":91.25,"v2":106},{"v":105,"v2":120},{"v":118.75,"v2":134},{"v":132.5,"v2":148},{"v":146.25,"v2":161},{"v":160,"v2":175},{"v":173.75,"v2":189},{"v":187.5,"v2":203},{"v":201.25,"v2":216},{"v":215,"v2":230},{"v":228.75,"v2":244},{"v":242.5,"v2":258},{"v":256.25,"v2":271},{"v":270,"v2":285},{"v":283.75,"v2":299},{"v":297.5,"v2":313},{"v":311.25,"v2":326},{"v":325,"v2":340},{"v":338.75,"v2":354},{"v":352.5,"v2":368},{"v":366.25,"v2":381},{"v":380,"v2":395},{"v":393.75,"v2":409},{"v":407.5,"v2":423},{"v":421.25,"v2":436},{"v":435,"v2":450},{"v":448.75,"v2":464},{"v":462.5,"v2":478},{"v":476.25,"v2":491},{"v":490,"v2":505},{"v":503.75,"v2":519},{"v":517.5,"v2":533},{"v":531.25,"v2":546},{"v":545,"v2":560},{"v":558.75,"v2":574},{"v":572.5,"v2":588},{"v":586.25,"v2":600}],
"cbB":[{"v":0,"v2":0.33},{"v":0.3,"v2":0.63},{"v":0.6,"v2":0.93},{"v":0.9,"v2":1.23},{"v":1.2,"v2":1.53},{"v":1.5,"v2":1.83},{"v":1.8,"v2":2.13},{"v":2.1,"v2":2.43},{"v":2.4,"v2":2.73},{"v":2.7,"v2":3.03},{"v":3,"v2":3.33},{"v":3.3,"v2":3.63},{"v":3.6,"v2":3.93},{"v":3.9,"v2":4.23},{"v":4.2,"v2":4.53},{"v":4.5,"v2":4.83},{"v":4.8,"v2":5.13},{"v":5.1,"v2":5.43},{"v":5.4,"v2":5.73},{"v":5.7,"v2":6.03},{"v":6,"v2":6.33},{"v":6.3,"v2":6.63},{"v":6.6,"v2":6.93},{"v":6.9,"v2":7.23},{"v":7.2,"v2":7.53},{"v":7.5,"v2":7.83},{"v":7.8,"v2":8.13},{"v":8.1,"v2":8.43},{"v":8.4,"v2":8.73},{"v":8.7,"v2":9.03},{"v":9,"v2":9.33},{"v":9.3,"v2":9.63},{"v":9.6,"v2":9.93},{"v":9.9,"v2":10.23},{"v":10.2,"v2":10.53},{"v":10.5,"v2":10.83},{"v":10.8,"v2":11.13},{"v":11.1,"v2":11.43},{"v":11.4,"v2":11.73},{"v":11.7,"v2":12}],
"bgV1":[{"x":0,"x2":8.1,"v":125},{"x":8,"x2":9.1,"v":125},{"x":9,"x2":10.1,"v":105},{"x":10,"x2":11.1,"v":88},{"x":11,"x2":12.1,"v":72},{"x":12,"x2":13.1,"v":64},{"x":13,"x2":14.1,"v":60},{"x":14,"x2":15.1,"v":60},{"x":15,"x2":16.1,"v":64},{"x":16,"x2":17.1,"v":74},{"x":17,"x2":18.1,"v":90},{"x":18,"x2":19.1,"v":110},{"x":19,"x2":20,"v":108}],
"bgV2":[{"x":0,"x2":8.1,"v":120},{"x":8,"x2":9.1,"v":110},{"x":9,"x2":10.1,"v":95},{"x":10,"x2":11.1,"v":77},{"x":11,"x2":12.1,"v":64},{"x":12,"x2":13.1,"v":58},{"x":13,"x2":14.1,"v":62},{"x":14,"x2":15.1,"v":80},{"x":15,"x2":16.1,"v":100},{"x":16,"x2":17.1,"v":118},{"x":17,"x2":18.1,"v":122},{"x":18,"x2":19.1,"v":112},{"x":19,"x2":20,"v":95}],
"bgB1":[{"x":0,"x2":8.1,"v":3},{"x":8,"x2":10.1,"v":2.8},{"x":10,"x2":12.1,"v":2.6},{"x":12,"x2":14.1,"v":2.45},{"x":14,"x2":16.1,"v":2.25},{"x":16,"x2":17.1,"v":2.1},{"x":17,"x2":18.1,"v":1.95},{"x":18,"x2":19.1,"v":1.7},{"x":19,"x2":20,"v":1.35}],
"bgB2":[{"x":0,"x2":9.1,"v":2.7},{"x":9,"x2":10.1,"v":2.6},{"x":10,"x2":11.1,"v":2.5},{"x":11,"x2":12.1,"v":2.25},{"x":12,"x2":13.1,"v":1.95},{"x":13,"x2":14.1,"v":1.6},{"x":14,"x2":15.1,"v":1.25},{"x":15,"x2":16.1,"v":1.05},{"x":16,"x2":17.1,"v":0.95},{"x":17,"x2":18.1,"v":1.0},{"x":18,"x2":19.1,"v":1.15},{"x":19,"x2":20,"v":1.1}],
"cV1":[{"x":0.75,"z":19.5,"v":195},{"x":2.25,"z":19.5,"v":160},{"x":3.75,"z":19.5,"v":150},{"x":5.25,"z":19.5,"v":140},{"x":6.75,"z":19.5,"v":135},
{"x":0.75,"z":18,"v":205},{"x":2.25,"z":18,"v":180},{"x":3.75,"z":18,"v":135},{"x":5.25,"z":18,"v":118},{"x":6.75,"z":18,"v":128},{"x":8.25,"z":18,"v":135},
{"x":0.75,"z":16.5,"v":195},{"x":2.25,"z":16.5,"v":225},{"x":3.75,"z":16.5,"v":165},{"x":5.25,"z":16.5,"v":128},{"x":6.75,"z":16.5,"v":118},{"x":8.25,"z":16.5,"v":140},{"x":9.75,"z":16.5,"v":135},
{"x":0.75,"z":15,"v":215},{"x":2.25,"z":15,"v":245},{"x":3.75,"z":15,"v":190},{"x":5.25,"z":15,"v":140},{"x":6.75,"z":15,"v":118},{"x":8.25,"z":15,"v":128},{"x":9.75,"z":15,"v":135},
{"x":0.75,"z":13.5,"v":225},{"x":2.25,"z":13.5,"v":260},{"x":3.75,"z":13.5,"v":245},{"x":5.25,"z":13.5,"v":175},{"x":6.75,"z":13.5,"v":140},{"x":8.25,"z":13.5,"v":150},{"x":9.75,"z":13.5,"v":128},{"x":11.25,"z":13.5,"v":128},
{"x":0.75,"z":12,"v":245},{"x":2.25,"z":12,"v":280},{"x":3.75,"z":12,"v":245},{"x":5.25,"z":12,"v":245},{"x":6.75,"z":12,"v":160},{"x":8.25,"z":12,"v":175},{"x":9.75,"z":12,"v":140},{"x":11.25,"z":12,"v":128},
{"x":0.75,"z":10.5,"v":260},{"x":2.25,"z":10.5,"v":280},{"x":3.75,"z":10.5,"v":255},{"x":5.25,"z":10.5,"v":235},{"x":6.75,"z":10.5,"v":225},{"x":8.25,"z":10.5,"v":175},{"x":9.75,"z":10.5,"v":150},{"x":11.25,"z":10.5,"v":150},{"x":12.75,"z":10.5,"v":128},
{"x":0.75,"z":9,"v":520},{"x":2.25,"z":9,"v":480},{"x":3.75,"z":9,"v":245},{"x":5.25,"z":9,"v":225},{"x":6.75,"z":9,"v":290},{"x":8.25,"z":9,"v":215},{"x":9.75,"z":9,"v":150},{"x":11.25,"z":9,"v":140},{"x":12.75,"z":9,"v":128},
{"x":0.75,"z":7.5,"v":500},{"x":2.25,"z":7.5,"v":260},{"x":3.75,"z":7.5,"v":215},{"x":5.25,"z":7.5,"v":290},{"x":6.75,"z":7.5,"v":430},{"x":8.25,"z":7.5,"v":260},{"x":9.75,"z":7.5,"v":195},{"x":11.25,"z":7.5,"v":150},{"x":12.75,"z":7.5,"v":150},{"x":14.25,"z":7.5,"v":135},
{"x":3.75,"z":6,"v":440},{"x":5.25,"z":6,"v":400},{"x":6.75,"z":6,"v":380},{"x":8.25,"z":6,"v":350},{"x":9.75,"z":6,"v":420},{"x":11.25,"z":6,"v":190},{"x":12.75,"z":6,"v":160},{"x":14.25,"z":6,"v":140},
{"x":6.75,"z":4.5,"v":400},{"x":8.25,"z":4.5,"v":290},{"x":9.75,"z":4.5,"v":430},{"x":11.25,"z":4.5,"v":225},{"x":12.75,"z":4.5,"v":165},{"x":14.25,"z":4.5,"v":140},
{"x":6.75,"z":3,"v":420},{"x":8.25,"z":3,"v":350},{"x":9.75,"z":3,"v":380},{"x":11.25,"z":3,"v":245},{"x":12.75,"z":3,"v":180},{"x":14.25,"z":3,"v":140},
{"x":8.25,"z":1.5,"v":350},{"x":9.75,"z":1.5,"v":290},{"x":11.25,"z":1.5,"v":260},{"x":12.75,"z":1.5,"v":190},{"x":14.25,"z":1.5,"v":150},
{"x":8.25,"z":0,"v":380},{"x":9.75,"z":0,"v":380},{"x":11.25,"z":0,"v":195},{"x":12.75,"z":0,"v":225},{"x":14.25,"z":0,"v":140},
{"x":8.25,"z":-1.5,"v":380},{"x":9.75,"z":-1.5,"v":420},{"x":11.25,"z":-1.5,"v":195},{"x":12.75,"z":-1.5,"v":245},{"x":14.25,"z":-1.5,"v":140},
{"x":6.75,"z":-3,"v":260},{"x":8.25,"z":-3,"v":420},{"x":9.75,"z":-3,"v":470},{"x":11.25,"z":-3,"v":190},{"x":12.75,"z":-3,"v":225},{"x":14.25,"z":-3,"v":150},
{"x":6.75,"z":-4.5,"v":500},{"x":8.25,"z":-4.5,"v":380},{"x":9.75,"z":-4.5,"v":440},{"x":11.25,"z":-4.5,"v":175},{"x":12.75,"z":-4.5,"v":195},{"x":14.25,"z":-4.5,"v":150},
{"x":3.75,"z":-6,"v":260},{"x":5.25,"z":-6,"v":350},{"x":6.75,"z":-6,"v":300},{"x":8.25,"z":-6,"v":370},{"x":9.75,"z":-6,"v":225},{"x":11.25,"z":-6,"v":175},{"x":12.75,"z":-6,"v":175},{"x":14.25,"z":-6,"v":140},
{"x":0.75,"z":-7.5,"v":480},{"x":2.25,"z":-7.5,"v":380},{"x":3.75,"z":-7.5,"v":280},{"x":5.25,"z":-7.5,"v":300},{"x":6.75,"z":-7.5,"v":350},{"x":8.25,"z":-7.5,"v":270},{"x":9.75,"z":-7.5,"v":205},{"x":11.25,"z":-7.5,"v":175},{"x":12.75,"z":-7.5,"v":165},{"x":14.25,"z":-7.5,"v":135},
{"x":0.75,"z":-9,"v":420},{"x":2.25,"z":-9,"v":255},{"x":3.75,"z":-9,"v":260},{"x":5.25,"z":-9,"v":270},{"x":6.75,"z":-9,"v":290},{"x":8.25,"z":-9,"v":260},{"x":9.75,"z":-9,"v":190},{"x":11.25,"z":-9,"v":195},{"x":12.75,"z":-9,"v":150},
{"x":0.75,"z":-10.5,"v":260},{"x":2.25,"z":-10.5,"v":235},{"x":3.75,"z":-10.5,"v":255},{"x":5.25,"z":-10.5,"v":245},{"x":6.75,"z":-10.5,"v":260},{"x":8.25,"z":-10.5,"v":245},{"x":9.75,"z":-10.5,"v":175},{"x":11.25,"z":-10.5,"v":180},{"x":12.75,"z":-10.5,"v":135},
{"x":0.75,"z":-12,"v":290},{"x":2.25,"z":-12,"v":255},{"x":3.75,"z":-12,"v":195},{"x":5.25,"z":-12,"v":235},{"x":6.75,"z":-12,"v":215},{"x":8.25,"z":-12,"v":245},{"x":9.75,"z":-12,"v":175},{"x":11.25,"z":-12,"v":160},
{"x":0.75,"z":-13.5,"v":300},{"x":2.25,"z":-13.5,"v":235},{"x":3.75,"z":-13.5,"v":175},{"x":5.25,"z":-13.5,"v":225},{"x":6.75,"z":-13.5,"v":175},{"x":8.25,"z":-13.5,"v":255},{"x":9.75,"z":-13.5,"v":180},{"x":11.25,"z":-13.5,"v":140},
{"x":0.75,"z":-15,"v":260},{"x":2.25,"z":-15,"v":195},{"x":3.75,"z":-15,"v":180},{"x":5.25,"z":-15,"v":215},{"x":6.75,"z":-15,"v":180},{"x":8.25,"z":-15,"v":160},{"x":9.75,"z":-15,"v":135},
{"x":0.75,"z":-16.5,"v":225},{"x":2.25,"z":-16.5,"v":190},{"x":3.75,"z":-16.5,"v":165},{"x":5.25,"z":-16.5,"v":205},{"x":6.75,"z":-16.5,"v":150},{"x":8.25,"z":-16.5,"v":175},{"x":9.75,"z":-16.5,"v":135},
{"x":0.75,"z":-18,"v":195},{"x":2.25,"z":-18,"v":165},{"x":3.75,"z":-18,"v":160},{"x":5.25,"z":-18,"v":165},{"x":6.75,"z":-18,"v":145},{"x":8.25,"z":-18,"v":135},
{"x":0.75,"z":-19.5,"v":180},{"x":2.25,"z":-19.5,"v":150},{"x":3.75,"z":-19.5,"v":140},{"x":5.25,"z":-19.5,"v":145},{"x":6.75,"z":-19.5,"v":135}],
"cB1":[{"x":0.75,"z":19.5,"v":4.5},{"x":2.25,"z":19.5,"v":4},{"x":3.75,"z":19.5,"v":7},{"x":5.25,"z":19.5,"v":7.5},{"x":6.75,"z":19.5,"v":5},
{"x":0.75,"z":18,"v":4},{"x":2.25,"z":18,"v":3.5},{"x":3.75,"z":18,"v":7},{"x":5.25,"z":18,"v":7},{"x":6.75,"z":18,"v":8},{"x":8.25,"z":18,"v":6},
{"x":0.75,"z":16.5,"v":4.5},{"x":2.25,"z":16.5,"v":3},{"x":3.75,"z":16.5,"v":3.5},{"x":5.25,"z":16.5,"v":6},{"x":6.75,"z":16.5,"v":7},{"x":8.25,"z":16.5,"v":7},{"x":9.75,"z":16.5,"v":5.5},
{"x":0.75,"z":15,"v":3},{"x":2.25,"z":15,"v":3},{"x":3.75,"z":15,"v":3},{"x":5.25,"z":15,"v":4.5},{"x":6.75,"z":15,"v":7},{"x":8.25,"z":15,"v":6.5},{"x":9.75,"z":15,"v":6.5},
{"x":0.75,"z":13.5,"v":2.2},{"x":2.25,"z":13.5,"v":2.5},{"x":3.75,"z":13.5,"v":2.5},{"x":5.25,"z":13.5,"v":3},{"x":6.75,"z":13.5,"v":4.5},{"x":8.25,"z":13.5,"v":6},{"x":9.75,"z":13.5,"v":6.5},{"x":11.25,"z":13.5,"v":8},
{"x":0.75,"z":12,"v":2},{"x":2.25,"z":12,"v":1.8},{"x":3.75,"z":12,"v":2},{"x":5.25,"z":12,"v":2.5},{"x":6.75,"z":12,"v":3},{"x":8.25,"z":12,"v":4.5},{"x":9.75,"z":12,"v":6},{"x":11.25,"z":12,"v":8.5},
{"x":0.75,"z":10.5,"v":1.5},{"x":2.25,"z":10.5,"v":1.5},{"x":3.75,"z":10.5,"v":1.5},{"x":5.25,"z":10.5,"v":2},{"x":6.75,"z":10.5,"v":2.5},{"x":8.25,"z":10.5,"v":3},{"x":9.75,"z":10.5,"v":4.5},{"x":11.25,"z":10.5,"v":6},{"x":12.75,"z":10.5,"v":8},
{"x":0.75,"z":9,"v":2},{"x":2.25,"z":9,"v":1.2},{"x":3.75,"z":9,"v":1.3},{"x":5.25,"z":9,"v":1.6},{"x":6.75,"z":9,"v":2},{"x":8.25,"z":9,"v":2.5},{"x":9.75,"z":9,"v":3.5},{"x":11.25,"z":9,"v":5},{"x":12.75,"z":9,"v":7.5},
{"x":0.75,"z":7.5,"v":3},{"x":2.25,"z":7.5,"v":2},{"x":3.75,"z":7.5,"v":1.4},{"x":5.25,"z":7.5,"v":1.4},{"x":6.75,"z":7.5,"v":1.6},{"x":8.25,"z":7.5,"v":2},{"x":9.75,"z":7.5,"v":2.5},{"x":11.25,"z":7.5,"v":3.5},{"x":12.75,"z":7.5,"v":6.5},{"x":14.25,"z":7.5,"v":9},
{"x":3.75,"z":6,"v":1.5},{"x":5.25,"z":6,"v":1.5},{"x":6.75,"z":6,"v":1.2},{"x":8.25,"z":6,"v":1.5},{"x":9.75,"z":6,"v":2},{"x":11.25,"z":6,"v":3},{"x":12.75,"z":6,"v":5},{"x":14.25,"z":6,"v":9},
{"x":6.75,"z":4.5,"v":1.5},{"x":8.25,"z":4.5,"v":1.3},{"x":9.75,"z":4.5,"v":1.8},{"x":11.25,"z":4.5,"v":3},{"x":12.75,"z":4.5,"v":4.5},{"x":14.25,"z":4.5,"v":9},
{"x":6.75,"z":3,"v":1},{"x":8.25,"z":3,"v":1.2},{"x":9.75,"z":3,"v":1.5},{"x":11.25,"z":3,"v":2.5},{"x":12.75,"z":3,"v":4.5},{"x":14.25,"z":3,"v":8.5},
{"x":8.25,"z":1.5,"v":1.5},{"x":9.75,"z":1.5,"v":1.1},{"x":11.25,"z":1.5,"v":2.5},{"x":12.75,"z":1.5,"v":4.5},{"x":14.25,"z":1.5,"v":8},
{"x":8.25,"z":0,"v":1.5},{"x":9.75,"z":0,"v":1},{"x":11.25,"z":0,"v":2},{"x":12.75,"z":0,"v":4.5},{"x":14.25,"z":0,"v":8},
{"x":8.25,"z":-1.5,"v":2},{"x":9.75,"z":-1.5,"v":1},{"x":11.25,"z":-1.5,"v":1.6},{"x":12.75,"z":-1.5,"v":4},{"x":14.25,"z":-1.5,"v":8.5},
{"x":6.75,"z":-3,"v":1},{"x":8.25,"z":-3,"v":3},{"x":9.75,"z":-3,"v":1.2},{"x":11.25,"z":-3,"v":1.6},{"x":12.75,"z":-3,"v":4},{"x":14.25,"z":-3,"v":9.5},
{"x":6.75,"z":-4.5,"v":1.5},{"x":8.25,"z":-4.5,"v":1.2},{"x":9.75,"z":-4.5,"v":1.2},{"x":11.25,"z":-4.5,"v":2},{"x":12.75,"z":-4.5,"v":4},{"x":14.25,"z":-4.5,"v":9.5},
{"x":3.75,"z":-6,"v":1.5},{"x":5.25,"z":-6,"v":2},{"x":6.75,"z":-6,"v":1.3},{"x":8.25,"z":-6,"v":1.3},{"x":9.75,"z":-6,"v":1.6},{"x":11.25,"z":-6,"v":2.5},{"x":12.75,"z":-6,"v":4.5},{"x":14.25,"z":-6,"v":9},
{"x":0.75,"z":-7.5,"v":2},{"x":2.25,"z":-7.5,"v":6},{"x":3.75,"z":-7.5,"v":3},{"x":5.25,"z":-7.5,"v":1.4},{"x":6.75,"z":-7.5,"v":1.5},{"x":8.25,"z":-7.5,"v":1.7},{"x":9.75,"z":-7.5,"v":2.5},{"x":11.25,"z":-7.5,"v":4},{"x":12.75,"z":-7.5,"v":6},{"x":14.25,"z":-7.5,"v":7},
{"x":0.75,"z":-9,"v":5},{"x":2.25,"z":-9,"v":3.5},{"x":3.75,"z":-9,"v":1.5},{"x":5.25,"z":-9,"v":1.4},{"x":6.75,"z":-9,"v":1.6},{"x":8.25,"z":-9,"v":2},{"x":9.75,"z":-9,"v":3},{"x":11.25,"z":-9,"v":5},{"x":12.75,"z":-9,"v":8},
{"x":0.75,"z":-10.5,"v":2},{"x":2.25,"z":-10.5,"v":1.5},{"x":3.75,"z":-10.5,"v":1.3},{"x":5.25,"z":-10.5,"v":1.4},{"x":6.75,"z":-10.5,"v":1.6},{"x":8.25,"z":-10.5,"v":2.5},{"x":9.75,"z":-10.5,"v":4.5},{"x":11.25,"z":-10.5,"v":6.5},{"x":12.75,"z":-10.5,"v":8},
{"x":0.75,"z":-12,"v":1.6},{"x":2.25,"z":-12,"v":1.5},{"x":3.75,"z":-12,"v":1.6},{"x":5.25,"z":-12,"v":1.7},{"x":6.75,"z":-12,"v":2.2},{"x":8.25,"z":-12,"v":4.5},{"x":9.75,"z":-12,"v":6},{"x":11.25,"z":-12,"v":7.5},
{"x":0.75,"z":-13.5,"v":2},{"x":2.25,"z":-13.5,"v":2},{"x":3.75,"z":-13.5,"v":2},{"x":5.25,"z":-13.5,"v":2.2},{"x":6.75,"z":-13.5,"v":4.5},{"x":8.25,"z":-13.5,"v":6.5},{"x":9.75,"z":-13.5,"v":7},{"x":11.25,"z":-13.5,"v":6},
{"x":0.75,"z":-15,"v":3},{"x":2.25,"z":-15,"v":3},{"x":3.75,"z":-15,"v":2.6},{"x":5.25,"z":-15,"v":3.5},{"x":6.75,"z":-15,"v":6},{"x":8.25,"z":-15,"v":6.5},{"x":9.75,"z":-15,"v":6.5},
{"x":0.75,"z":-16.5,"v":3},{"x":2.25,"z":-16.5,"v":4},{"x":3.75,"z":-16.5,"v":3.5},{"x":5.25,"z":-16.5,"v":5},{"x":6.75,"z":-16.5,"v":6.5},{"x":8.25,"z":-16.5,"v":6.5},{"x":9.75,"z":-16.5,"v":6},
{"x":0.75,"z":-18,"v":4},{"x":2.25,"z":-18,"v":5},{"x":3.75,"z":-18,"v":5},{"x":5.25,"z":-18,"v":6},{"x":6.75,"z":-18,"v":6.5},{"x":8.25,"z":-18,"v":5.5},
{"x":0.75,"z":-19.5,"v":5},{"x":2.25,"z":-19.5,"v":6},{"x":3.75,"z":-19.5,"v":7},{"x":5.25,"z":-19.5,"v":6.5},{"x":6.75,"z":-19.5,"v":5.5}],
"cV2":[{"x":0.75,"z":19.5,"v":195},{"x":2.25,"z":19.5,"v":205},{"x":3.75,"z":19.5,"v":150},{"x":5.25,"z":19.5,"v":145},{"x":6.75,"z":19.5,"v":128},{"x":8.25,"z":19.5,"v":128},
{"x":0.75,"z":18,"v":195},{"x":2.25,"z":18,"v":225},{"x":3.75,"z":18,"v":160},{"x":5.25,"z":18,"v":140},{"x":6.75,"z":18,"v":135},{"x":8.25,"z":18,"v":128},
{"x":0.75,"z":16.5,"v":215},{"x":2.25,"z":16.5,"v":235},{"x":3.75,"z":16.5,"v":190},{"x":5.25,"z":16.5,"v":145},{"x":6.75,"z":16.5,"v":145},{"x":8.25,"z":16.5,"v":140},{"x":9.75,"z":16.5,"v":128},
{"x":0.75,"z":15,"v":245},{"x":2.25,"z":15,"v":225},{"x":3.75,"z":15,"v":225},{"x":5.25,"z":15,"v":190},{"x":6.75,"z":15,"v":175},{"x":8.25,"z":15,"v":140},{"x":9.75,"z":15,"v":128},
{"x":0.75,"z":13.5,"v":260},{"x":2.25,"z":13.5,"v":245},{"x":3.75,"z":13.5,"v":255},{"x":5.25,"z":13.5,"v":245},{"x":6.75,"z":13.5,"v":205},{"x":8.25,"z":13.5,"v":145},{"x":9.75,"z":13.5,"v":135},{"x":11.25,"z":13.5,"v":128},
{"x":0.75,"z":12,"v":280},{"x":2.25,"z":12,"v":260},{"x":3.75,"z":12,"v":225},{"x":5.25,"z":12,"v":255},{"x":6.75,"z":12,"v":205},{"x":8.25,"z":12,"v":175},{"x":9.75,"z":12,"v":140},{"x":11.25,"z":12,"v":128},
{"x":0.75,"z":10.5,"v":300},{"x":2.25,"z":10.5,"v":260},{"x":3.75,"z":10.5,"v":235},{"x":5.25,"z":10.5,"v":245},{"x":6.75,"z":10.5,"v":260},{"x":8.25,"z":10.5,"v":195},{"x":9.75,"z":10.5,"v":160},{"x":11.25,"z":10.5,"v":140},{"x":12.75,"z":10.5,"v":128},
{"x":0.75,"z":9,"v":500},{"x":2.25,"z":9,"v":260},{"x":3.75,"z":9,"v":190},{"x":5.25,"z":9,"v":260},{"x":6.75,"z":9,"v":260},{"x":8.25,"z":9,"v":245},{"x":9.75,"z":9,"v":175},{"x":11.25,"z":9,"v":150},{"x":12.75,"z":9,"v":135},
{"x":0.75,"z":7.5,"v":550},{"x":2.25,"z":7.5,"v":480},{"x":3.75,"z":7.5,"v":260},{"x":5.25,"z":7.5,"v":260},{"x":6.75,"z":7.5,"v":350},{"x":8.25,"z":7.5,"v":400},{"x":9.75,"z":7.5,"v":260},{"x":11.25,"z":7.5,"v":175},{"x":12.75,"z":7.5,"v":150},{"x":14.25,"z":7.5,"v":135},
{"x":3.75,"z":6,"v":420},{"x":5.25,"z":6,"v":420},{"x":6.75,"z":6,"v":400},{"x":8.25,"z":6,"v":380},{"x":9.75,"z":6,"v":480},{"x":11.25,"z":6,"v":260},{"x":12.75,"z":6,"v":160},{"x":14.25,"z":6,"v":135},
{"x":6.75,"z":4.5,"v":450},{"x":8.25,"z":4.5,"v":400},{"x":9.75,"z":4.5,"v":430},{"x":11.25,"z":4.5,"v":260},{"x":12.75,"z":4.5,"v":165},{"x":14.25,"z":4.5,"v":140},
{"x":6.75,"z":3,"v":520},{"x":8.25,"z":3,"v":480},{"x":9.75,"z":3,"v":420},{"x":11.25,"z":3,"v":260},{"x":12.75,"z":3,"v":190},{"x":14.25,"z":3,"v":150},
{"x":8.25,"z":1.5,"v":400},{"x":9.75,"z":1.5,"v":400},{"x":11.25,"z":1.5,"v":280},{"x":12.75,"z":1.5,"v":195},{"x":14.25,"z":1.5,"v":150},
{"x":8.25,"z":0,"v":350},{"x":9.75,"z":0,"v":420},{"x":11.25,"z":0,"v":260},{"x":12.75,"z":0,"v":225},{"x":14.25,"z":0,"v":150},
{"x":8.25,"z":-1.5,"v":350},{"x":9.75,"z":-1.5,"v":450},{"x":11.25,"z":-1.5,"v":215},{"x":12.75,"z":-1.5,"v":235},{"x":14.25,"z":-1.5,"v":150},
{"x":6.75,"z":-3,"v":260},{"x":8.25,"z":-3,"v":280},{"x":9.75,"z":-3,"v":480},{"x":11.25,"z":-3,"v":215},{"x":12.75,"z":-3,"v":245},{"x":14.25,"z":-3,"v":150},
{"x":6.75,"z":-4.5,"v":400},{"x":8.25,"z":-4.5,"v":380},{"x":9.75,"z":-4.5,"v":500},{"x":11.25,"z":-4.5,"v":225},{"x":12.75,"z":-4.5,"v":205},{"x":14.25,"z":-4.5,"v":145},
{"x":3.75,"z":-6,"v":520},{"x":5.25,"z":-6,"v":450},{"x":6.75,"z":-6,"v":520},{"x":8.25,"z":-6,"v":500},{"x":9.75,"z":-6,"v":420},{"x":11.25,"z":-6,"v":225},{"x":12.75,"z":-6,"v":165},{"x":14.25,"z":-6,"v":140},
{"x":0.75,"z":-7.5,"v":600},{"x":2.25,"z":-7.5,"v":520},{"x":3.75,"z":-7.5,"v":380},{"x":5.25,"z":-7.5,"v":400},{"x":6.75,"z":-7.5,"v":480},{"x":8.25,"z":-7.5,"v":420},{"x":9.75,"z":-7.5,"v":245},{"x":11.25,"z":-7.5,"v":205},{"x":12.75,"z":-7.5,"v":150},{"x":14.25,"z":-7.5,"v":135},
{"x":0.75,"z":-9,"v":500},{"x":2.25,"z":-9,"v":320},{"x":3.75,"z":-9,"v":300},{"x":5.25,"z":-9,"v":290},{"x":6.75,"z":-9,"v":300},{"x":8.25,"z":-9,"v":260},{"x":9.75,"z":-9,"v":245},{"x":11.25,"z":-9,"v":175},{"x":12.75,"z":-9,"v":145},
{"x":0.75,"z":-10.5,"v":300},{"x":2.25,"z":-10.5,"v":300},{"x":3.75,"z":-10.5,"v":260},{"x":5.25,"z":-10.5,"v":255},{"x":6.75,"z":-10.5,"v":260},{"x":8.25,"z":-10.5,"v":245},{"x":9.75,"z":-10.5,"v":255},{"x":11.25,"z":-10.5,"v":150},{"x":12.75,"z":-10.5,"v":135},
{"x":0.75,"z":-12,"v":290},{"x":2.25,"z":-12,"v":280},{"x":3.75,"z":-12,"v":215},{"x":5.25,"z":-12,"v":205},{"x":6.75,"z":-12,"v":260},{"x":8.25,"z":-12,"v":225},{"x":9.75,"z":-12,"v":175},{"x":11.25,"z":-12,"v":140},
{"x":0.75,"z":-13.5,"v":270},{"x":2.25,"z":-13.5,"v":245},{"x":3.75,"z":-13.5,"v":180},{"x":5.25,"z":-13.5,"v":245},{"x":6.75,"z":-13.5,"v":225},{"x":8.25,"z":-13.5,"v":180},{"x":9.75,"z":-13.5,"v":140},{"x":11.25,"z":-13.5,"v":128},
{"x":0.75,"z":-15,"v":270},{"x":2.25,"z":-15,"v":205},{"x":3.75,"z":-15,"v":215},{"x":5.25,"z":-15,"v":255},{"x":6.75,"z":-15,"v":165},{"x":8.25,"z":-15,"v":150},{"x":9.75,"z":-15,"v":128},
{"x":0.75,"z":-16.5,"v":255},{"x":2.25,"z":-16.5,"v":190},{"x":3.75,"z":-16.5,"v":180},{"x":5.25,"z":-16.5,"v":235},{"x":6.75,"z":-16.5,"v":180},{"x":8.25,"z":-16.5,"v":140},{"x":9.75,"z":-16.5,"v":128},
{"x":0.75,"z":-18,"v":225},{"x":2.25,"z":-18,"v":165},{"x":3.75,"z":-18,"v":160},{"x":5.25,"z":-18,"v":205},{"x":6.75,"z":-18,"v":145},{"x":8.25,"z":-18,"v":128},
{"x":0.75,"z":-19.5,"v":215},{"x":2.25,"z":-19.5,"v":150},{"x":3.75,"z":-19.5,"v":150},{"x":5.25,"z":-19.5,"v":165},{"x":6.75,"z":-19.5,"v":135},{"x":8.25,"z":-19.5,"v":128}],
"cB2":[{"x":0.75,"z":19.5,"v":3},{"x":2.25,"z":19.5,"v":3.5},{"x":3.75,"z":19.5,"v":5},{"x":5.25,"z":19.5,"v":7},{"x":6.75,"z":19.5,"v":9.5},{"x":8.25,"z":19.5,"v":10},
{"x":0.75,"z":18,"v":3},{"x":2.25,"z":18,"v":3},{"x":3.75,"z":18,"v":7},{"x":5.25,"z":18,"v":7},{"x":6.75,"z":18,"v":7.5},{"x":8.25,"z":18,"v":10.5},
{"x":0.75,"z":16.5,"v":4},{"x":2.25,"z":16.5,"v":3},{"x":3.75,"z":16.5,"v":5.5},{"x":5.25,"z":16.5,"v":6},{"x":6.75,"z":16.5,"v":7},{"x":8.25,"z":16.5,"v":9.5},{"x":9.75,"z":16.5,"v":10},
{"x":0.75,"z":15,"v":3},{"x":2.25,"z":15,"v":3.5},{"x":3.75,"z":15,"v":3.5},{"x":5.25,"z":15,"v":6},{"x":6.75,"z":15,"v":6},{"x":8.25,"z":15,"v":7},{"x":9.75,"z":15,"v":9},
{"x":0.75,"z":13.5,"v":2.5},{"x":2.25,"z":13.5,"v":2.5},{"x":3.75,"z":13.5,"v":3},{"x":5.25,"z":13.5,"v":3.5},{"x":6.75,"z":13.5,"v":5.5},{"x":8.25,"z":13.5,"v":6.5},{"x":9.75,"z":13.5,"v":8},{"x":11.25,"z":13.5,"v":8.5},
{"x":0.75,"z":12,"v":2},{"x":2.25,"z":12,"v":2.2},{"x":3.75,"z":12,"v":2.5},{"x":5.25,"z":12,"v":2.5},{"x":6.75,"z":12,"v":3.5},{"x":8.25,"z":12,"v":4.5},{"x":9.75,"z":12,"v":6},{"x":11.25,"z":12,"v":9},
{"x":0.75,"z":10.5,"v":3},{"x":2.25,"z":10.5,"v":1.8},{"x":3.75,"z":10.5,"v":2},{"x":5.25,"z":10.5,"v":2},{"x":6.75,"z":10.5,"v":2.5},{"x":8.25,"z":10.5,"v":3.5},{"x":9.75,"z":10.5,"v":4.5},{"x":11.25,"z":10.5,"v":8},{"x":12.75,"z":10.5,"v":7.5},
{"x":0.75,"z":9,"v":6},{"x":2.25,"z":9,"v":2.5},{"x":3.75,"z":9,"v":1.8},{"x":5.25,"z":9,"v":2},{"x":6.75,"z":9,"v":2},{"x":8.25,"z":9,"v":2.5},{"x":9.75,"z":9,"v":3.5},{"x":11.25,"z":9,"v":6},{"x":12.75,"z":9,"v":10},
{"x":0.75,"z":7.5,"v":3},{"x":2.25,"z":7.5,"v":7},{"x":3.75,"z":7.5,"v":3},{"x":5.25,"z":7.5,"v":1.8},{"x":6.75,"z":7.5,"v":1.6},{"x":8.25,"z":7.5,"v":2},{"x":9.75,"z":7.5,"v":2.5},{"x":11.25,"z":7.5,"v":4},{"x":12.75,"z":7.5,"v":8},{"x":14.25,"z":7.5,"v":7},
{"x":3.75,"z":6,"v":2},{"x":5.25,"z":6,"v":3},{"x":6.75,"z":6,"v":1.6},{"x":8.25,"z":6,"v":1.6},{"x":9.75,"z":6,"v":2},{"x":11.25,"z":6,"v":3},{"x":12.75,"z":6,"v":6.5},{"x":14.25,"z":6,"v":7.5},
{"x":6.75,"z":4.5,"v":2},{"x":8.25,"z":4.5,"v":1.4},{"x":9.75,"z":4.5,"v":1.8},{"x":11.25,"z":4.5,"v":3},{"x":12.75,"z":4.5,"v":7},{"x":14.25,"z":4.5,"v":7.5},
{"x":6.75,"z":3,"v":1.5},{"x":8.25,"z":3,"v":1.5},{"x":9.75,"z":3,"v":2},{"x":11.25,"z":3,"v":3},{"x":12.75,"z":3,"v":6},{"x":14.25,"z":3,"v":7},
{"x":8.25,"z":1.5,"v":1.5},{"x":9.75,"z":1.5,"v":1.5},{"x":11.25,"z":1.5,"v":2.5},{"x":12.75,"z":1.5,"v":7},{"x":14.25,"z":1.5,"v":6.5},
{"x":8.25,"z":0,"v":1.5},{"x":9.75,"z":0,"v":1.4},{"x":11.25,"z":0,"v":2.5},{"x":12.75,"z":0,"v":7},{"x":14.25,"z":0,"v":6},
{"x":8.25,"z":-1.5,"v":1.5},{"x":9.75,"z":-1.5,"v":1.5},{"x":11.25,"z":-1.5,"v":2.5},{"x":12.75,"z":-1.5,"v":7.5},{"x":14.25,"z":-1.5,"v":6.5},
{"x":6.75,"z":-3,"v":1},{"x":8.25,"z":-3,"v":1.5},{"x":9.75,"z":-3,"v":1.3},{"x":11.25,"z":-3,"v":2.5},{"x":12.75,"z":-3,"v":7.5},{"x":14.25,"z":-3,"v":7},
{"x":6.75,"z":-4.5,"v":3},{"x":8.25,"z":-4.5,"v":1.2},{"x":9.75,"z":-4.5,"v":1.5},{"x":11.25,"z":-4.5,"v":3},{"x":12.75,"z":-4.5,"v":7},{"x":14.25,"z":-4.5,"v":6.5},
{"x":3.75,"z":-6,"v":1},{"x":5.25,"z":-6,"v":1.5},{"x":6.75,"z":-6,"v":4},{"x":8.25,"z":-6,"v":1.5},{"x":9.75,"z":-6,"v":2},{"x":11.25,"z":-6,"v":3.5},{"x":12.75,"z":-6,"v":8},{"x":14.25,"z":-6,"v":6.5},
{"x":0.75,"z":-7.5,"v":2},{"x":2.25,"z":-7.5,"v":2},{"x":3.75,"z":-7.5,"v":5},{"x":5.25,"z":-7.5,"v":2.5},{"x":6.75,"z":-7.5,"v":1.6},{"x":8.25,"z":-7.5,"v":2},{"x":9.75,"z":-7.5,"v":3},{"x":11.25,"z":-7.5,"v":5},{"x":12.75,"z":-7.5,"v":8.5},{"x":14.25,"z":-7.5,"v":6},
{"x":0.75,"z":-9,"v":1.6},{"x":2.25,"z":-9,"v":1.8},{"x":3.75,"z":-9,"v":1.7},{"x":5.25,"z":-9,"v":1.6},{"x":6.75,"z":-9,"v":1.7},{"x":8.25,"z":-9,"v":2.2},{"x":9.75,"z":-9,"v":3},{"x":11.25,"z":-9,"v":7},{"x":12.75,"z":-9,"v":8.5},
{"x":0.75,"z":-10.5,"v":2},{"x":2.25,"z":-10.5,"v":2},{"x":3.75,"z":-10.5,"v":1.8},{"x":5.25,"z":-10.5,"v":2},{"x":6.75,"z":-10.5,"v":2.2},{"x":8.25,"z":-10.5,"v":3},{"x":9.75,"z":-10.5,"v":6},{"x":11.25,"z":-10.5,"v":9.5},{"x":12.75,"z":-10.5,"v":7},
{"x":0.75,"z":-12,"v":2},{"x":2.25,"z":-12,"v":2.5},{"x":3.75,"z":-12,"v":2.5},{"x":5.25,"z":-12,"v":2.5},{"x":6.75,"z":-12,"v":4},{"x":8.25,"z":-12,"v":5.5},{"x":9.75,"z":-12,"v":8.5},{"x":11.25,"z":-12,"v":7},
{"x":0.75,"z":-13.5,"v":2.5},{"x":2.25,"z":-13.5,"v":3},{"x":3.75,"z":-13.5,"v":2.8},{"x":5.25,"z":-13.5,"v":4},{"x":6.75,"z":-13.5,"v":6},{"x":8.25,"z":-13.5,"v":7},{"x":9.75,"z":-13.5,"v":9},{"x":11.25,"z":-13.5,"v":6},
{"x":0.75,"z":-15,"v":3},{"x":2.25,"z":-15,"v":3.5},{"x":3.75,"z":-15,"v":3},{"x":5.25,"z":-15,"v":4.5},{"x":6.75,"z":-15,"v":6.5},{"x":8.25,"z":-15,"v":7.5},{"x":9.75,"z":-15,"v":8},
{"x":0.75,"z":-16.5,"v":3.5},{"x":2.25,"z":-16.5,"v":3.5},{"x":3.75,"z":-16.5,"v":5},{"x":5.25,"z":-16.5,"v":6},{"x":6.75,"z":-16.5,"v":7},{"x":8.25,"z":-16.5,"v":9},{"x":9.75,"z":-16.5,"v":6.5},
{"x":0.75,"z":-18,"v":3.5},{"x":2.25,"z":-18,"v":4.5},{"x":3.75,"z":-18,"v":6},{"x":5.25,"z":-18,"v":6.5},{"x":6.75,"z":-18,"v":8},{"x":8.25,"z":-18,"v":7},
{"x":0.75,"z":-19.5,"v":3.5},{"x":2.25,"z":-19.5,"v":5.5},{"x":3.75,"z":-19.5,"v":6.5},{"x":5.25,"z":-19.5,"v":7},{"x":6.75,"z":-19.5,"v":8},{"x":8.25,"z":-19.5,"v":7}]
},
"hconcat":[
{"bounds":"flush","spacing":0,"resolve":{"scale":{"color":"independent"},"legend":{"color":"independent"}},"vconcat":[
{"width":794,"height":21,"data":{"values":[]},"mark":"rect","encoding":{}},
{"width":794,"height":113,"resolve":{"axis":{"x":"independent","y":"independent"}},"layer":[
{"data":{"name":"a1"},"mark":{"type":"line","clip":true,"strokeWidth":2.5,"interpolate":"monotone","color":"#1f77b4"},"encoding":{"x":{"field":"x","type":"quantitative","scale":{"domain":[7,17]},"axis":{"orient":"bottom","values":[8,10,12,14,16],"labels":false,"grid":true,"title":null,"tickSize":7}},"y":{"field":"y","type":"quantitative","scale":{"domain":[0,10]},"axis":{"orient":"left","values":[0,2,4,6,8,10],"grid":true,"title":"n [cm⁻³]","tickSize":7}}}},
{"data":{"values":[{"x":8.175}]},"mark":{"type":"rule","color":"#ff7f7f","strokeWidth":2.5,"strokeDash":[7,4]},"encoding":{"x":{"field":"x","type":"quantitative","axis":null}}},
{"data":{"values":[{"x":7,"x2":17,"y":0,"y2":10}]},"mark":{"type":"rect","fill":"transparent","stroke":"#222","strokeWidth":1.5},"encoding":{"x":{"field":"x","type":"quantitative","scale":{"domain":[7,17]},"axis":{"orient":"bottom","tickCount":20,"labels":false,"grid":false,"title":null,"tickSize":4}},"x2":{"field":"x2"},"y":{"field":"y","type":"quantitative","scale":{"domain":[0,10]},"axis":{"orient":"left","tickCount":20,"labels":false,"grid":false,"title":null,"tickSize":4}},"y2":{"field":"y2"}}},
{"data":{"values":[{"x":9.5,"y":3.45,"y2":5.4,"h":5.6,"t":"1st","tx":9.52,"b":0.95},{"x":11.7,"y":3.6,"y2":6.9,"h":7.3,"t":"2nd","tx":11.72,"b":0.95},{"x":14.04,"y":3.45,"y2":5.4,"h":5.6,"t":"3rd","tx":14.07,"b":0.95}]},"layer":[
{"mark":{"type":"rule","color":"#000","strokeWidth":3.5},"encoding":{"x":{"field":"x","type":"quantitative","axis":null},"y":{"field":"y","type":"quantitative","axis":null},"y2":{"field":"y2"}}},
{"mark":{"type":"point","shape":"triangle-up","filled":true,"color":"#000","opacity":1,"size":196},"encoding":{"x":{"field":"x","type":"quantitative","axis":null},"y":{"field":"h","type":"quantitative","axis":null}}},
{"mark":{"type":"text","align":"left","baseline":"alphabetic","fontSize":23.5,"color":"#000"},"encoding":{"x":{"field":"tx","type":"quantitative","axis":null},"y":{"field":"b","type":"quantitative","axis":null},"text":{"field":"t"}}}]},
{"data":{"values":[{"x":11.82,"y":12.19,"t":"Sun-Earth line, t= 800.0s"}]},"mark":{"type":"text","align":"center","baseline":"alphabetic","fontSize":36,"color":"#000"},"encoding":{"x":{"field":"x","type":"quantitative","axis":null},"y":{"field":"y","type":"quantitative","axis":null},"text":{"field":"t"}}},
{"data":{"values":[{"x":5.9,"y":12.65,"t":"A"}]},"mark":{"type":"text","align":"left","baseline":"alphabetic","font":"Liberation Sans","fontWeight":"bold","fontSize":24,"color":"#000"},"encoding":{"x":{"field":"x","type":"quantitative","axis":null},"y":{"field":"y","type":"quantitative","axis":null},"text":{"field":"t"}}},
{"data":{"values":[{"x":5.77,"x2":21.94,"y":17.52,"y2":-121.2}]},"mark":{"type":"rect","fill":"transparent","stroke":"#d0d0d0","strokeWidth":1},"encoding":{"x":{"field":"x","type":"quantitative","axis":null},"x2":{"field":"x2"},"y":{"field":"y","type":"quantitative","axis":null},"y2":{"field":"y2"}}}
]},
{"width":794,"height":21,"data":{"values":[]},"mark":"rect","encoding":{}},
{"width":794,"height":113,"resolve":{"axis":{"x":"independent","y":"independent"}},"layer":[
{"data":{"name":"a2"},"mark":{"type":"line","clip":true,"strokeWidth":2.5,"interpolate":"monotone"},"encoding":{"x":{"field":"x","type":"quantitative","scale":{"domain":[7,17]},"axis":{"orient":"bottom","values":[8,10,12,14,16],"labels":false,"grid":true,"title":null,"tickSize":7}},"y":{"field":"y","type":"quantitative","scale":{"domain":[-620,305]},"axis":{"orient":"left","values":[-600,-400,-200,0,200],"grid":true,"title":"V [km/s]","tickSize":7}},"color":{"field":"s","type":"nominal","scale":{"domain":["Vx","Vy","Vz"],"range":["#1f77b4","#ff7f0e","#2ca02c"]},"legend":{"title":null,"legendX":14.3,"legendY":57}}}},
{"data":{"values":[{"x":8.175}]},"mark":{"type":"rule","color":"#ff7f7f","strokeWidth":2.5,"strokeDash":[7,4]},"encoding":{"x":{"field":"x","type":"quantitative","axis":null}}},
{"data":{"values":[{"x":7,"x2":17,"y":-620,"y2":305}]},"mark":{"type":"rect","fill":"transparent","stroke":"#222","strokeWidth":1.5},"encoding":{"x":{"field":"x","type":"quantitative","scale":{"domain":[7,17]},"axis":{"orient":"bottom","tickCount":20,"labels":false,"grid":false,"title":null,"tickSize":4}},"x2":{"field":"x2"},"y":{"field":"y","type":"quantitative","scale":{"domain":[-620,305]},"axis":{"orient":"left","tickCount":18,"labels":false,"grid":false,"title":null,"tickSize":4}},"y2":{"field":"y2"}}}
]},
{"width":794,"height":26,"data":{"values":[]},"mark":"rect","encoding":{}},
{"width":794,"height":113,"resolve":{"axis":{"x":"independent","y":"independent"}},"layer":[
{"data":{"name":"a3"},"mark":{"type":"line","clip":true,"strokeWidth":2.5,"interpolate":"monotone"},"encoding":{"x":{"field":"x","type":"quantitative","scale":{"domain":[7,17]},"axis":{"orient":"bottom","values":[8,10,12,14,16],"labels":false,"grid":true,"title":null,"tickSize":7}},"y":{"field":"y","type":"quantitative","scale":{"domain":[0,2]},"axis":{"orient":"left","values":[0,0.5,1,1.5,2],"format":".1f","grid":true,"title":"P [nPa]","tickSize":7}},"color":{"field":"s","type":"nominal","scale":{"domain":["Ram","Thermal"],"range":["#1f77b4","#ff7f0e"]},"legend":{"title":null,"legendX":472,"legendY":5,"columnPadding":35}}}},
{"data":{"values":[{"x":8.175}]},"mark":{"type":"rule","color":"#ff7f7f","strokeWidth":2.5,"strokeDash":[7,4]},"encoding":{"x":{"field":"x","type":"quantitative","axis":null}}},
{"data":{"values":[{"x":7,"x2":17,"y":0,"y2":2}]},"mark":{"type":"rect","fill":"transparent","stroke":"#222","strokeWidth":1.5},"encoding":{"x":{"field":"x","type":"quantitative","scale":{"domain":[7,17]},"axis":{"orient":"bottom","tickCount":20,"labels":false,"grid":false,"title":null,"tickSize":4}},"x2":{"field":"x2"},"y":{"field":"y","type":"quantitative","scale":{"domain":[0,2]},"axis":{"orient":"left","tickCount":20,"labels":false,"grid":false,"title":null,"tickSize":4}},"y2":{"field":"y2"}}}
]},
{"width":794,"height":21,"data":{"values":[]},"mark":"rect","encoding":{}},
{"width":794,"height":113,"resolve":{"axis":{"x":"independent","y":"independent"}},"layer":[
{"data":{"name":"a4"},"mark":{"type":"line","clip":true,"strokeWidth":2.5,"interpolate":"monotone"},"encoding":{"x":{"field":"x","type":"quantitative","scale":{"domain":[7,17]},"axis":{"orient":"bottom","values":[8,10,12,14,16],"labels":false,"grid":true,"title":null,"tickSize":7}},"y":{"field":"y","type":"quantitative","scale":{"domain":[-50,50]},"axis":{"orient":"left","values":[-40,-20,0,20,40],"grid":true,"title":"B [nT]","tickSize":7}},"color":{"field":"s","type":"nominal","scale":{"domain":["Bx","By","Bz"],"range":["#1f77b4","#ff7f0e","#2ca02c"]},"legend":{"title":null,"legendX":425.6,"legendY":4.5}}}},
{"data":{"values":[{"x":8.175}]},"mark":{"type":"rule","color":"#ff7f7f","strokeWidth":2.5,"strokeDash":[7,4]},"encoding":{"x":{"field":"x","type":"quantitative","axis":null}}},
{"data":{"values":[{"x":7,"x2":17,"y":-50,"y2":50}]},"mark":{"type":"rect","fill":"transparent","stroke":"#222","strokeWidth":1.5},"encoding":{"x":{"field":"x","type":"quantitative","scale":{"domain":[7,17]},"axis":{"orient":"bottom","tickCount":20,"labels":false,"grid":false,"title":null,"tickSize":4}},"x2":{"field":"x2"},"y":{"field":"y","type":"quantitative","scale":{"domain":[-50,50]},"axis":{"orient":"left","tickCount":20,"labels":false,"grid":false,"title":null,"tickSize":4}},"y2":{"field":"y2"}}}
]},
{"width":794,"height":13,"data":{"values":[]},"mark":"rect","encoding":{}},
{"width":794,"height":113,"resolve":{"axis":{"x":"independent","y":"independent"}},"layer":[
{"data":{"name":"a5"},"mark":{"type":"line","clip":true,"strokeWidth":2.5,"interpolate":"monotone"},"encoding":{"x":{"field":"x","type":"quantitative","scale":{"domain":[7,17]},"axis":{"orient":"bottom","values":[8,10,12,14,16],"labelPadding":6,"grid":true,"title":"x [Rᴇ]","tickSize":7,"titlePadding":3}},"y":{"field":"y","type":"quantitative","scale":{"domain":[-7,7]},"axis":{"orient":"left","values":[-5,-2.5,0,2.5,5],"format":".1f","grid":true,"title":"E [mV/m]","tickSize":7}},"color":{"field":"s","type":"nominal","scale":{"domain":["Ex","Ey","Ez"],"range":["#1f77b4","#ff7f0e","#2ca02c"]},"legend":{"title":null,"legendX":429,"legendY":58}}}},
{"data":{"values":[{"x":8.175}]},"mark":{"type":"rule","color":"#ff7f7f","strokeWidth":2.5,"strokeDash":[7,4]},"encoding":{"x":{"field":"x","type":"quantitative","axis":null}}},
{"data":{"values":[{"x":7,"x2":17,"y":-7,"y2":7}]},"mark":{"type":"rect","fill":"transparent","stroke":"#222","strokeWidth":1.5},"encoding":{"x":{"field":"x","type":"quantitative","scale":{"domain":[7,17]},"axis":{"orient":"bottom","tickCount":20,"labels":false,"grid":false,"title":null,"tickSize":4}},"x2":{"field":"x2"},"y":{"field":"y","type":"quantitative","scale":{"domain":[-7,7]},"axis":{"orient":"left","tickCount":28,"labels":false,"grid":false,"title":null,"tickSize":4}},"y2":{"field":"y2"}}}
]},
{"width":794,"height":124,"data":{"values":[]},"mark":"rect","encoding":{}},
{"width":794,"height":113,"resolve":{"axis":{"x":"independent","y":"independent"}},"layer":[
{"data":{"name":"b1"},"mark":{"type":"line","clip":true,"strokeWidth":2.5,"interpolate":"monotone","color":"#1f77b4"},"encoding":{"x":{"field":"x","type":"quantitative","scale":{"domain":[7,17]},"axis":{"orient":"bottom","values":[8,10,12,14,16],"labels":false,"grid":true,"title":null,"tickSize":7}},"y":{"field":"y","type":"quantitative","scale":{"domain":[0,10]},"axis":{"orient":"left","values":[0,2,4,6,8,10],"grid":true,"title":"n [cm⁻³]","tickSize":7}}}},
{"data":{"values":[{"x":8.03}]},"mark":{"type":"rule","color":"#ff7f7f","strokeWidth":2.5,"strokeDash":[7,4]},"encoding":{"x":{"field":"x","type":"quantitative","axis":null}}},
{"data":{"values":[{"x":7,"x2":17,"y":0,"y2":10}]},"mark":{"type":"rect","fill":"transparent","stroke":"#222","strokeWidth":1.5},"encoding":{"x":{"field":"x","type":"quantitative","scale":{"domain":[7,17]},"axis":{"orient":"bottom","tickCount":20,"labels":false,"grid":false,"title":null,"tickSize":4}},"x2":{"field":"x2"},"y":{"field":"y","type":"quantitative","scale":{"domain":[0,10]},"axis":{"orient":"left","tickCount":20,"labels":false,"grid":false,"title":null,"tickSize":4}},"y2":{"field":"y2"}}},
{"data":{"values":[{"x":8.7,"y":3.45,"y2":6.2,"h":6.4,"t":"1st","tx":8.72,"b":1},{"x":10.8,"y":3.6,"y2":7,"h":7.6,"t":"2nd","tx":10.83,"b":1},{"x":13.25,"y":3.6,"y2":7,"h":7.6,"t":"3rd","tx":13.28,"b":1}]},"layer":[
{"mark":{"type":"rule","color":"#000","strokeWidth":3.5},"encoding":{"x":{"field":"x","type":"quantitative","axis":null},"y":{"field":"y","type":"quantitative","axis":null},"y2":{"field":"y2"}}},
{"mark":{"type":"point","shape":"triangle-up","filled":true,"color":"#000","opacity":1,"size":196},"encoding":{"x":{"field":"x","type":"quantitative","axis":null},"y":{"field":"h","type":"quantitative","axis":null}}},
{"mark":{"type":"text","align":"left","baseline":"alphabetic","fontSize":23.5,"color":"#000"},"encoding":{"x":{"field":"tx","type":"quantitative","axis":null},"y":{"field":"b","type":"quantitative","axis":null},"text":{"field":"t"}}}]},
{"data":{"values":[{"x":11.82,"y":12.33,"t":"Sun-Earth line, t= 850.0s"}]},"mark":{"type":"text","align":"center","baseline":"alphabetic","fontSize":36,"color":"#000"},"encoding":{"x":{"field":"x","type":"quantitative","axis":null},"y":{"field":"y","type":"quantitative","axis":null},"text":{"field":"t"}}},
{"data":{"values":[{"x":5.9,"y":11.83,"t":"B"}]},"mark":{"type":"text","align":"left","baseline":"alphabetic","font":"Liberation Sans","fontWeight":"bold","fontSize":24,"color":"#000"},"encoding":{"x":{"field":"x","type":"quantitative","axis":null},"y":{"field":"y","type":"quantitative","axis":null},"text":{"field":"t"}}}
]},
{"width":794,"height":21,"data":{"values":[]},"mark":"rect","encoding":{}},
{"width":794,"height":113,"resolve":{"axis":{"x":"independent","y":"independent"}},"layer":[
{"data":{"name":"b2"},"mark":{"type":"line","clip":true,"strokeWidth":2.5,"interpolate":"monotone"},"encoding":{"x":{"field":"x","type":"quantitative","scale":{"domain":[7,17]},"axis":{"orient":"bottom","values":[8,10,12,14,16],"labels":false,"grid":true,"title":null,"tickSize":7}},"y":{"field":"y","type":"quantitative","scale":{"domain":[-620,305]},"axis":{"orient":"left","values":[-600,-400,-200,0,200],"grid":true,"title":"V [km/s]","tickSize":7}},"color":{"field":"s","type":"nominal","scale":{"domain":["Vx","Vy","Vz"],"range":["#1f77b4","#ff7f0e","#2ca02c"]},"legend":{"title":null,"legendX":14.3,"legendY":57}}}},
{"data":{"values":[{"x":8.03}]},"mark":{"type":"rule","color":"#ff7f7f","strokeWidth":2.5,"strokeDash":[7,4]},"encoding":{"x":{"field":"x","type":"quantitative","axis":null}}},
{"data":{"values":[{"x":7,"x2":17,"y":-620,"y2":305}]},"mark":{"type":"rect","fill":"transparent","stroke":"#222","strokeWidth":1.5},"encoding":{"x":{"field":"x","type":"quantitative","scale":{"domain":[7,17]},"axis":{"orient":"bottom","tickCount":20,"labels":false,"grid":false,"title":null,"tickSize":4}},"x2":{"field":"x2"},"y":{"field":"y","type":"quantitative","scale":{"domain":[-620,305]},"axis":{"orient":"left","tickCount":18,"labels":false,"grid":false,"title":null,"tickSize":4}},"y2":{"field":"y2"}}}
]},
{"width":794,"height":26,"data":{"values":[]},"mark":"rect","encoding":{}},
{"width":794,"height":113,"resolve":{"axis":{"x":"independent","y":"independent"}},"layer":[
{"data":{"name":"b3"},"mark":{"type":"line","clip":true,"strokeWidth":2.5,"interpolate":"monotone"},"encoding":{"x":{"field":"x","type":"quantitative","scale":{"domain":[7,17]},"axis":{"orient":"bottom","values":[8,10,12,14,16],"labels":false,"grid":true,"title":null,"tickSize":7}},"y":{"field":"y","type":"quantitative","scale":{"domain":[0,2]},"axis":{"orient":"left","values":[0,0.5,1,1.5,2],"format":".1f","grid":true,"title":"P [nPa]","tickSize":7}},"color":{"field":"s","type":"nominal","scale":{"domain":["Ram","Thermal"],"range":["#1f77b4","#ff7f0e"]},"legend":{"title":null,"legendX":472,"legendY":5,"columnPadding":35}}}},
{"data":{"values":[{"x":8.03}]},"mark":{"type":"rule","color":"#ff7f7f","strokeWidth":2.5,"strokeDash":[7,4]},"encoding":{"x":{"field":"x","type":"quantitative","axis":null}}},
{"data":{"values":[{"x":7,"x2":17,"y":0,"y2":2}]},"mark":{"type":"rect","fill":"transparent","stroke":"#222","strokeWidth":1.5},"encoding":{"x":{"field":"x","type":"quantitative","scale":{"domain":[7,17]},"axis":{"orient":"bottom","tickCount":20,"labels":false,"grid":false,"title":null,"tickSize":4}},"x2":{"field":"x2"},"y":{"field":"y","type":"quantitative","scale":{"domain":[0,2]},"axis":{"orient":"left","tickCount":20,"labels":false,"grid":false,"title":null,"tickSize":4}},"y2":{"field":"y2"}}}
]},
{"width":794,"height":21,"data":{"values":[]},"mark":"rect","encoding":{}},
{"width":794,"height":113,"resolve":{"axis":{"x":"independent","y":"independent"}},"layer":[
{"data":{"name":"b4"},"mark":{"type":"line","clip":true,"strokeWidth":2.5,"interpolate":"monotone"},"encoding":{"x":{"field":"x","type":"quantitative","scale":{"domain":[7,17]},"axis":{"orient":"bottom","values":[8,10,12,14,16],"labels":false,"grid":true,"title":null,"tickSize":7}},"y":{"field":"y","type":"quantitative","scale":{"domain":[-50,50]},"axis":{"orient":"left","values":[-40,-20,0,20,40],"grid":true,"title":"B [nT]","tickSize":7}},"color":{"field":"s","type":"nominal","scale":{"domain":["Bx","By","Bz"],"range":["#1f77b4","#ff7f0e","#2ca02c"]},"legend":{"title":null,"legendX":425.6,"legendY":4.5}}}},
{"data":{"values":[{"x":8.03}]},"mark":{"type":"rule","color":"#ff7f7f","strokeWidth":2.5,"strokeDash":[7,4]},"encoding":{"x":{"field":"x","type":"quantitative","axis":null}}},
{"data":{"values":[{"x":7,"x2":17,"y":-50,"y2":50}]},"mark":{"type":"rect","fill":"transparent","stroke":"#222","strokeWidth":1.5},"encoding":{"x":{"field":"x","type":"quantitative","scale":{"domain":[7,17]},"axis":{"orient":"bottom","tickCount":20,"labels":false,"grid":false,"title":null,"tickSize":4}},"x2":{"field":"x2"},"y":{"field":"y","type":"quantitative","scale":{"domain":[-50,50]},"axis":{"orient":"left","tickCount":20,"labels":false,"grid":false,"title":null,"tickSize":4}},"y2":{"field":"y2"}}}
]},
{"width":794,"height":14,"data":{"values":[]},"mark":"rect","encoding":{}},
{"width":794,"height":113,"resolve":{"axis":{"x":"independent","y":"independent"}},"layer":[
{"data":{"name":"b5"},"mark":{"type":"line","clip":true,"strokeWidth":2.5,"interpolate":"monotone"},"encoding":{"x":{"field":"x","type":"quantitative","scale":{"domain":[7,17]},"axis":{"orient":"bottom","values":[8,10,12,14,16],"labelPadding":6,"grid":true,"title":"x [Rᴇ]","tickSize":7,"titlePadding":3}},"y":{"field":"y","type":"quantitative","scale":{"domain":[-7,7]},"axis":{"orient":"left","values":[-5,-2.5,0,2.5,5],"format":".1f","grid":true,"title":"E [mV/m]","tickSize":7}},"color":{"field":"s","type":"nominal","scale":{"domain":["Ex","Ey","Ez"],"range":["#1f77b4","#ff7f0e","#2ca02c"]},"legend":{"title":null,"legendX":429,"legendY":58}}}},
{"data":{"values":[{"x":8.03}]},"mark":{"type":"rule","color":"#ff7f7f","strokeWidth":2.5,"strokeDash":[7,4]},"encoding":{"x":{"field":"x","type":"quantitative","axis":null}}},
{"data":{"values":[{"x":7,"x2":17,"y":-7,"y2":7}]},"mark":{"type":"rect","fill":"transparent","stroke":"#222","strokeWidth":1.5},"encoding":{"x":{"field":"x","type":"quantitative","scale":{"domain":[7,17]},"axis":{"orient":"bottom","tickCount":20,"labels":false,"grid":false,"title":null,"tickSize":4}},"x2":{"field":"x2"},"y":{"field":"y","type":"quantitative","scale":{"domain":[-7,7]},"axis":{"orient":"left","tickCount":28,"labels":false,"grid":false,"title":null,"tickSize":4}},"y2":{"field":"y2"}}}
]}
]},
{"bounds":"flush","spacing":175,"resolve":{"scale":{"color":"independent"},"legend":{"color":"independent"}},"hconcat":[
{"bounds":"flush","spacing":0,"resolve":{"scale":{"color":"independent"},"legend":{"color":"independent"}},"vconcat":[
{"width":151.6,"height":305,"title":{"text":"Vᴀ [km/s]","fontSize":24,"offset":-2},"resolve":{"axis":{"x":"independent","y":"independent"}},"layer":[
{"data":{"name":"bgV1"},"mark":"rect","encoding":{"x":{"field":"x","type":"quantitative","scale":{"domain":[0,20]},"axis":null},"x2":{"field":"x2"},"color":{"field":"v","type":"quantitative","scale":{"domain":[50,600]},"legend":null}}},
{"data":{"name":"cV1"},"mark":{"type":"rect","width":11.7,"height":11.7,"clip":true},"encoding":{"x":{"field":"x","type":"quantitative","scale":{"domain":[0,20]},"axis":{"orient":"bottom","values":[0,5,10,15,20],"labels":false,"grid":false,"title":null,"tickSize":5}},"y":{"field":"z","type":"quantitative","scale":{"domain":[-20,20]},"axis":{"orient":"left","values":[-20,-15,-10,-5,0,5,10,15,20],"grid":false,"title":"Z [Rᴇ]","tickSize":5,"titlePadding":14}},"color":{"field":"v","type":"quantitative","scale":{"domain":[50,600]},"legend":null}}},
{"data":{"values":[{"x":0,"z":0}]},"mark":{"type":"point","filled":true,"size":14790,"color":"#7a0403","opacity":1,"clip":true},"encoding":{"x":{"field":"x","type":"quantitative","axis":null},"y":{"field":"z","type":"quantitative","axis":null}}},
{"data":{"values":[{"x":0,"z":0}]},"mark":{"type":"point","filled":true,"size":5776,"fill":"#fff","stroke":"#6a4c93","strokeWidth":1.5,"opacity":1,"clip":true},"encoding":{"x":{"field":"x","type":"quantitative","axis":null},"y":{"field":"z","type":"quantitative","axis":null}}},
{"data":{"values":[{"x":7,"x2":17,"z":0}]},"mark":{"type":"rule","color":"#fff","strokeWidth":2.5,"strokeDash":[10,6]},"encoding":{"x":{"field":"x","type":"quantitative","axis":null},"x2":{"field":"x2"},"y":{"field":"z","type":"quantitative","axis":null}}},
{"data":{"values":[{"x":0,"x2":20,"z":-20,"z2":20}]},"mark":{"type":"rect","fill":"transparent","stroke":"#000","strokeWidth":3},"encoding":{"x":{"field":"x","type":"quantitative","scale":{"domain":[0,20]},"axis":{"orient":"bottom","tickCount":20,"labels":false,"grid":false,"title":null,"tickSize":3}},"x2":{"field":"x2"},"y":{"field":"z","type":"quantitative","scale":{"domain":[-20,20]},"axis":{"orient":"left","tickCount":40,"labels":false,"grid":false,"title":null,"tickSize":3}},"y2":{"field":"z2"}}}
]},
{"width":151.6,"height":58,"data":{"values":[]},"mark":"rect","encoding":{}},
{"width":151.6,"height":305,"title":{"text":"β","fontSize":27,"fontStyle":"italic","offset":-2},"resolve":{"axis":{"x":"independent","y":"independent"}},"layer":[
{"data":{"name":"bgB1"},"mark":"rect","encoding":{"x":{"field":"x","type":"quantitative","scale":{"domain":[0,20]},"axis":null},"x2":{"field":"x2"},"color":{"field":"v","type":"quantitative","scale":{"domain":[0,12]},"legend":null}}},
{"data":{"name":"cB1"},"mark":{"type":"rect","width":11.7,"height":11.7,"clip":true},"encoding":{"x":{"field":"x","type":"quantitative","scale":{"domain":[0,20]},"axis":{"orient":"bottom","values":[0,5,10,15,20],"grid":false,"title":"X [Rᴇ]","tickSize":5,"labelPadding":7,"titlePadding":5}},"y":{"field":"z","type":"quantitative","scale":{"domain":[-20,20]},"axis":{"orient":"left","values":[-20,-15,-10,-5,0,5,10,15,20],"grid":false,"title":"Z [Rᴇ]","tickSize":5,"titlePadding":14}},"color":{"field":"v","type":"quantitative","scale":{"domain":[0,12]},"legend":null}}},
{"data":{"values":[{"x":0,"z":0}]},"mark":{"type":"point","filled":true,"size":14790,"color":"#30123b","opacity":1,"clip":true},"encoding":{"x":{"field":"x","type":"quantitative","axis":null},"y":{"field":"z","type":"quantitative","axis":null}}},
{"data":{"values":[{"x":0,"z":0}]},"mark":{"type":"point","filled":true,"size":5776,"fill":"#fff","stroke":"#8a6cb3","strokeWidth":1.5,"opacity":1,"clip":true},"encoding":{"x":{"field":"x","type":"quantitative","axis":null},"y":{"field":"z","type":"quantitative","axis":null}}},
{"data":{"values":[{"x":0,"x2":20,"z":-20,"z2":20}]},"mark":{"type":"rect","fill":"transparent","stroke":"#000","strokeWidth":3},"encoding":{"x":{"field":"x","type":"quantitative","scale":{"domain":[0,20]},"axis":{"orient":"bottom","tickCount":20,"labels":false,"grid":false,"title":null,"tickSize":3}},"x2":{"field":"x2"},"y":{"field":"z","type":"quantitative","scale":{"domain":[-20,20]},"axis":{"orient":"left","tickCount":40,"labels":false,"grid":false,"title":null,"tickSize":3}},"y2":{"field":"z2"}}}
]},
{"width":151.6,"height":102,"data":{"values":[]},"mark":"rect","encoding":{}},
{"width":151.6,"height":305,"title":{"text":"Vᴀ [km/s]","fontSize":24,"offset":-2},"resolve":{"axis":{"x":"independent","y":"independent"}},"layer":[
{"data":{"name":"bgV2"},"mark":"rect","encoding":{"x":{"field":"x","type":"quantitative","scale":{"domain":[0,20]},"axis":null},"x2":{"field":"x2"},"color":{"field":"v","type":"quantitative","scale":{"domain":[50,600]},"legend":null}}},
{"data":{"name":"cV2"},"mark":{"type":"rect","width":11.7,"height":11.7,"clip":true},"encoding":{"x":{"field":"x","type":"quantitative","scale":{"domain":[0,20]},"axis":{"orient":"bottom","values":[0,5,10,15,20],"labels":false,"grid":false,"title":null,"tickSize":5}},"y":{"field":"z","type":"quantitative","scale":{"domain":[-20,20]},"axis":{"orient":"left","values":[-20,-15,-10,-5,0,5,10,15,20],"grid":false,"title":"Z [Rᴇ]","tickSize":5,"titlePadding":14}},"color":{"field":"v","type":"quantitative","scale":{"domain":[50,600]},"legend":null}}},
{"data":{"values":[{"x":0,"z":0}]},"mark":{"type":"point","filled":true,"size":14790,"color":"#7a0403","opacity":1,"clip":true},"encoding":{"x":{"field":"x","type":"quantitative","axis":null},"y":{"field":"z","type":"quantitative","axis":null}}},
{"data":{"values":[{"x":0,"z":0}]},"mark":{"type":"point","filled":true,"size":5776,"fill":"#fff","stroke":"#6a4c93","strokeWidth":1.5,"opacity":1,"clip":true},"encoding":{"x":{"field":"x","type":"quantitative","axis":null},"y":{"field":"z","type":"quantitative","axis":null}}},
{"data":{"values":[{"x":7,"x2":17,"z":0}]},"mark":{"type":"rule","color":"#fff","strokeWidth":2.5,"strokeDash":[10,6]},"encoding":{"x":{"field":"x","type":"quantitative","axis":null},"x2":{"field":"x2"},"y":{"field":"z","type":"quantitative","axis":null}}},
{"data":{"values":[{"x":0,"x2":20,"z":-20,"z2":20}]},"mark":{"type":"rect","fill":"transparent","stroke":"#000","strokeWidth":3},"encoding":{"x":{"field":"x","type":"quantitative","scale":{"domain":[0,20]},"axis":{"orient":"bottom","tickCount":20,"labels":false,"grid":false,"title":null,"tickSize":3}},"x2":{"field":"x2"},"y":{"field":"z","type":"quantitative","scale":{"domain":[-20,20]},"axis":{"orient":"left","tickCount":40,"labels":false,"grid":false,"title":null,"tickSize":3}},"y2":{"field":"z2"}}}
]},
{"width":151.6,"height":58,"data":{"values":[]},"mark":"rect","encoding":{}},
{"width":151.6,"height":305,"title":{"text":"β","fontSize":27,"fontStyle":"italic","offset":-2},"resolve":{"axis":{"x":"independent","y":"independent"}},"layer":[
{"data":{"name":"bgB2"},"mark":"rect","encoding":{"x":{"field":"x","type":"quantitative","scale":{"domain":[0,20]},"axis":null},"x2":{"field":"x2"},"color":{"field":"v","type":"quantitative","scale":{"domain":[0,12]},"legend":null}}},
{"data":{"name":"cB2"},"mark":{"type":"rect","width":11.7,"height":11.7,"clip":true},"encoding":{"x":{"field":"x","type":"quantitative","scale":{"domain":[0,20]},"axis":{"orient":"bottom","values":[0,5,10,15,20],"grid":false,"title":"X [Rᴇ]","tickSize":5,"labelPadding":7,"titlePadding":5}},"y":{"field":"z","type":"quantitative","scale":{"domain":[-20,20]},"axis":{"orient":"left","values":[-20,-15,-10,-5,0,5,10,15,20],"grid":false,"title":"Z [Rᴇ]","tickSize":5,"titlePadding":14}},"color":{"field":"v","type":"quantitative","scale":{"domain":[0,12]},"legend":null}}},
{"data":{"values":[{"x":0,"z":0}]},"mark":{"type":"point","filled":true,"size":14790,"color":"#30123b","opacity":1,"clip":true},"encoding":{"x":{"field":"x","type":"quantitative","axis":null},"y":{"field":"z","type":"quantitative","axis":null}}},
{"data":{"values":[{"x":0,"z":0}]},"mark":{"type":"point","filled":true,"size":5776,"fill":"#fff","stroke":"#8a6cb3","strokeWidth":1.5,"opacity":1,"clip":true},"encoding":{"x":{"field":"x","type":"quantitative","axis":null},"y":{"field":"z","type":"quantitative","axis":null}}},
{"data":{"values":[{"x":0,"x2":20,"z":-20,"z2":20}]},"mark":{"type":"rect","fill":"transparent","stroke":"#000","strokeWidth":3},"encoding":{"x":{"field":"x","type":"quantitative","scale":{"domain":[0,20]},"axis":{"orient":"bottom","tickCount":20,"labels":false,"grid":false,"title":null,"tickSize":3}},"x2":{"field":"x2"},"y":{"field":"z","type":"quantitative","scale":{"domain":[-20,20]},"axis":{"orient":"left","tickCount":40,"labels":false,"grid":false,"title":null,"tickSize":3}},"y2":{"field":"z2"}}}
]}
]},
{"bounds":"flush","spacing":0,"resolve":{"scale":{"color":"independent"},"legend":{"color":"independent"}},"vconcat":[
{"width":15,"height":15,"data":{"values":[]},"mark":"rect","encoding":{}},
{"width":15,"height":290,"resolve":{"axis":{"y":"independent"}},"layer":[
{"data":{"name":"cbV"},"mark":"rect","encoding":{"y":{"field":"v","type":"quantitative","scale":{"domain":[50,600]},"axis":{"orient":"right","values":[50,118.8,187.5,256.2,325,393.8,462.5,531.2,600],"format":".1f","grid":false,"title":null,"tickSize":5,"labelPadding":7}},"y2":{"field":"v2"},"color":{"field":"v","type":"quantitative","scale":{"domain":[50,600]},"legend":null}}},
{"data":{"values":[{"v":614}]},"mark":{"type":"point","filled":true,"shape":"M-1,1L0,-1L1,1Z","size":225,"fill":"#7a0403","stroke":"#333","strokeWidth":0.8,"opacity":1},"encoding":{"y":{"field":"v","type":"quantitative","scale":{"domain":[50,600]},"axis":null}}},
{"data":{"values":[{"v":50,"v2":600}]},"mark":{"type":"rect","fill":"transparent","stroke":"#333","strokeWidth":1},"encoding":{"y":{"field":"v","type":"quantitative","scale":{"domain":[50,600]},"axis":null},"y2":{"field":"v2"}}}
]},
{"width":15,"height":73,"data":{"values":[]},"mark":"rect","encoding":{}},
{"width":15,"height":290,"resolve":{"axis":{"y":"independent"}},"layer":[
{"data":{"name":"cbB"},"mark":"rect","encoding":{"y":{"field":"v","type":"quantitative","scale":{"domain":[0,12]},"axis":{"orient":"right","values":[0,1.5,3,4.5,6,7.5,9,10.5,12],"format":".1f","grid":false,"title":null,"tickSize":5,"labelPadding":7}},"y2":{"field":"v2"},"color":{"field":"v","type":"quantitative","scale":{"domain":[0,12]},"legend":null}}},
{"data":{"values":[{"v":12.31}]},"mark":{"type":"point","filled":true,"shape":"M-1,1L0,-1L1,1Z","size":225,"fill":"#7a0403","stroke":"#333","strokeWidth":0.8,"opacity":1},"encoding":{"y":{"field":"v","type":"quantitative","scale":{"domain":[0,12]},"axis":null}}},
{"data":{"values":[{"v":0,"v2":12}]},"mark":{"type":"rect","fill":"transparent","stroke":"#333","strokeWidth":1},"encoding":{"y":{"field":"v","type":"quantitative","scale":{"domain":[0,12]},"axis":null},"y2":{"field":"v2"}}}
]},
{"width":15,"height":117,"data":{"values":[]},"mark":"rect","encoding":{}},
{"width":15,"height":290,"resolve":{"axis":{"y":"independent"}},"layer":[
{"data":{"name":"cbV"},"mark":"rect","encoding":{"y":{"field":"v","type":"quantitative","scale":{"domain":[50,600]},"axis":{"orient":"right","values":[50,118.8,187.5,256.2,325,393.8,462.5,531.2,600],"format":".1f","grid":false,"title":null,"tickSize":5,"labelPadding":7}},"y2":{"field":"v2"},"color":{"field":"v","type":"quantitative","scale":{"domain":[50,600]},"legend":null}}},
{"data":{"values":[{"v":614}]},"mark":{"type":"point","filled":true,"shape":"M-1,1L0,-1L1,1Z","size":225,"fill":"#7a0403","stroke":"#333","strokeWidth":0.8,"opacity":1},"encoding":{"y":{"field":"v","type":"quantitative","scale":{"domain":[50,600]},"axis":null}}},
{"data":{"values":[{"v":50,"v2":600}]},"mark":{"type":"rect","fill":"transparent","stroke":"#333","strokeWidth":1},"encoding":{"y":{"field":"v","type":"quantitative","scale":{"domain":[50,600]},"axis":null},"y2":{"field":"v2"}}}
]},
{"width":15,"height":73,"data":{"values":[]},"mark":"rect","encoding":{}},
{"width":15,"height":290,"resolve":{"axis":{"y":"independent"}},"layer":[
{"data":{"name":"cbB"},"mark":"rect","encoding":{"y":{"field":"v","type":"quantitative","scale":{"domain":[0,12]},"axis":{"orient":"right","values":[0,1.5,3,4.5,6,7.5,9,10.5,12],"format":".1f","grid":false,"title":null,"tickSize":5,"labelPadding":7}},"y2":{"field":"v2"},"color":{"field":"v","type":"quantitative","scale":{"domain":[0,12]},"legend":null}}},
{"data":{"values":[{"v":12.31}]},"mark":{"type":"point","filled":true,"shape":"M-1,1L0,-1L1,1Z","size":225,"fill":"#7a0403","stroke":"#333","strokeWidth":0.8,"opacity":1},"encoding":{"y":{"field":"v","type":"quantitative","scale":{"domain":[0,12]},"axis":null}}},
{"data":{"values":[{"v":0,"v2":12}]},"mark":{"type":"rect","fill":"transparent","stroke":"#333","strokeWidth":1},"encoding":{"y":{"field":"v","type":"quantitative","scale":{"domain":[0,12]},"axis":null},"y2":{"field":"v2"}}}
]}
]}
]}
]}
